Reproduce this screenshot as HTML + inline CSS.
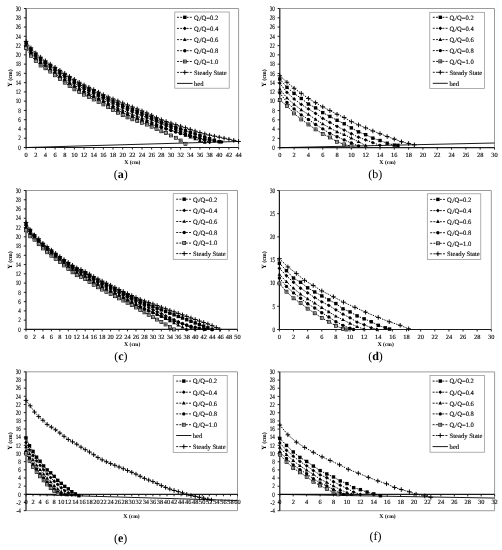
<!DOCTYPE html>
<html><head><meta charset="utf-8"><style>
html,body{margin:0;padding:0;background:#fff;width:502px;height:550px;overflow:hidden}
svg{display:block;will-change:transform}
text{font-family:"Liberation Serif", serif;fill:#000;text-rendering:geometricPrecision}
.tk{font-size:6.4px;stroke:#000;stroke-width:0.12px}
.ttl{font-size:5.8px;font-weight:bold}
.lg{font-size:6.6px;stroke:#000;stroke-width:0.12px}
.pl{font-size:12px}
</style></head><body>
<svg width="502" height="550" viewBox="0 0 502 550">
<rect width="502" height="550" fill="#fff"/>
<defs>
<rect id="msq" x="-1.7" y="-1.7" width="3.4" height="3.4" fill="#000"/>
<path id="mdia" d="M0 -1.9L1.9 0L0 1.9L-1.9 0Z" fill="#000"/>
<path id="mtri" d="M0 -2.1L1.85 1.3H-1.85Z" fill="#000"/>
<circle id="mcir" r="1.7" fill="#000"/>
<g id="mosq"><rect x="-1.5" y="-1.5" width="3" height="3" fill="#fff" stroke="#000" stroke-width="0.7"/><path d="M-1.5 0H1.5M0 -1.5V1.5" stroke="#222" stroke-width="0.55"/></g>
<path id="mplus" d="M-2.3 0H2.3M0 -2.3V2.3" stroke="#000" stroke-width="0.95"/>
</defs>
<path d="M26.1 8.51H238.6V147.5" fill="none" stroke="#9a9a9a" stroke-width="1"/>
<path d="M26.1 8.51V147.5" stroke="#1a1a1a" stroke-width="1.2"/>
<path d="M23.9 147.5H26.1" stroke="#1a1a1a" stroke-width="0.95"/>
<text transform="translate(20.8 149.7) scale(0.8 1.05)" class="tk" text-anchor="end">0</text>
<path d="M23.9 138.23H26.1" stroke="#1a1a1a" stroke-width="0.95"/>
<text transform="translate(20.8 140.43) scale(0.8 1.05)" class="tk" text-anchor="end">2</text>
<path d="M23.9 128.97H26.1" stroke="#1a1a1a" stroke-width="0.95"/>
<text transform="translate(20.8 131.17) scale(0.8 1.05)" class="tk" text-anchor="end">4</text>
<path d="M23.9 119.7H26.1" stroke="#1a1a1a" stroke-width="0.95"/>
<text transform="translate(20.8 121.9) scale(0.8 1.05)" class="tk" text-anchor="end">6</text>
<path d="M23.9 110.44H26.1" stroke="#1a1a1a" stroke-width="0.95"/>
<text transform="translate(20.8 112.64) scale(0.8 1.05)" class="tk" text-anchor="end">8</text>
<path d="M23.9 101.17H26.1" stroke="#1a1a1a" stroke-width="0.95"/>
<text transform="translate(20.8 103.37) scale(0.8 1.05)" class="tk" text-anchor="end">10</text>
<path d="M23.9 91.9H26.1" stroke="#1a1a1a" stroke-width="0.95"/>
<text transform="translate(20.8 94.1) scale(0.8 1.05)" class="tk" text-anchor="end">12</text>
<path d="M23.9 82.64H26.1" stroke="#1a1a1a" stroke-width="0.95"/>
<text transform="translate(20.8 84.84) scale(0.8 1.05)" class="tk" text-anchor="end">14</text>
<path d="M23.9 73.37H26.1" stroke="#1a1a1a" stroke-width="0.95"/>
<text transform="translate(20.8 75.57) scale(0.8 1.05)" class="tk" text-anchor="end">16</text>
<path d="M23.9 64.11H26.1" stroke="#1a1a1a" stroke-width="0.95"/>
<text transform="translate(20.8 66.31) scale(0.8 1.05)" class="tk" text-anchor="end">18</text>
<path d="M23.9 54.84H26.1" stroke="#1a1a1a" stroke-width="0.95"/>
<text transform="translate(20.8 57.04) scale(0.8 1.05)" class="tk" text-anchor="end">20</text>
<path d="M23.9 45.57H26.1" stroke="#1a1a1a" stroke-width="0.95"/>
<text transform="translate(20.8 47.77) scale(0.8 1.05)" class="tk" text-anchor="end">22</text>
<path d="M23.9 36.31H26.1" stroke="#1a1a1a" stroke-width="0.95"/>
<text transform="translate(20.8 38.51) scale(0.8 1.05)" class="tk" text-anchor="end">24</text>
<path d="M23.9 27.04H26.1" stroke="#1a1a1a" stroke-width="0.95"/>
<text transform="translate(20.8 29.24) scale(0.8 1.05)" class="tk" text-anchor="end">26</text>
<path d="M23.9 17.78H26.1" stroke="#1a1a1a" stroke-width="0.95"/>
<text transform="translate(20.8 19.98) scale(0.8 1.05)" class="tk" text-anchor="end">28</text>
<path d="M23.9 8.51H26.1" stroke="#1a1a1a" stroke-width="0.95"/>
<text transform="translate(20.8 10.71) scale(0.8 1.05)" class="tk" text-anchor="end">30</text>
<path d="M26.1 147.5H238.6" stroke="#1a1a1a" stroke-width="1.2"/>
<path d="M26.1 147.5V149.5" stroke="#1a1a1a" stroke-width="0.95"/>
<text transform="translate(26.1 156.7) scale(1.0 1.0)" class="tk" text-anchor="middle">0</text>
<path d="M35.76 147.5V149.5" stroke="#1a1a1a" stroke-width="0.95"/>
<text transform="translate(35.76 156.7) scale(1.0 1.0)" class="tk" text-anchor="middle">2</text>
<path d="M45.42 147.5V149.5" stroke="#1a1a1a" stroke-width="0.95"/>
<text transform="translate(45.42 156.7) scale(1.0 1.0)" class="tk" text-anchor="middle">4</text>
<path d="M55.07 147.5V149.5" stroke="#1a1a1a" stroke-width="0.95"/>
<text transform="translate(55.07 156.7) scale(1.0 1.0)" class="tk" text-anchor="middle">6</text>
<path d="M64.73 147.5V149.5" stroke="#1a1a1a" stroke-width="0.95"/>
<text transform="translate(64.73 156.7) scale(1.0 1.0)" class="tk" text-anchor="middle">8</text>
<path d="M74.39 147.5V149.5" stroke="#1a1a1a" stroke-width="0.95"/>
<text transform="translate(74.39 156.7) scale(1.0 1.0)" class="tk" text-anchor="middle">10</text>
<path d="M84.05 147.5V149.5" stroke="#1a1a1a" stroke-width="0.95"/>
<text transform="translate(84.05 156.7) scale(1.0 1.0)" class="tk" text-anchor="middle">12</text>
<path d="M93.71 147.5V149.5" stroke="#1a1a1a" stroke-width="0.95"/>
<text transform="translate(93.71 156.7) scale(1.0 1.0)" class="tk" text-anchor="middle">14</text>
<path d="M103.36 147.5V149.5" stroke="#1a1a1a" stroke-width="0.95"/>
<text transform="translate(103.36 156.7) scale(1.0 1.0)" class="tk" text-anchor="middle">16</text>
<path d="M113.02 147.5V149.5" stroke="#1a1a1a" stroke-width="0.95"/>
<text transform="translate(113.02 156.7) scale(1.0 1.0)" class="tk" text-anchor="middle">18</text>
<path d="M122.68 147.5V149.5" stroke="#1a1a1a" stroke-width="0.95"/>
<text transform="translate(122.68 156.7) scale(1.0 1.0)" class="tk" text-anchor="middle">20</text>
<path d="M132.34 147.5V149.5" stroke="#1a1a1a" stroke-width="0.95"/>
<text transform="translate(132.34 156.7) scale(1.0 1.0)" class="tk" text-anchor="middle">22</text>
<path d="M142 147.5V149.5" stroke="#1a1a1a" stroke-width="0.95"/>
<text transform="translate(142 156.7) scale(1.0 1.0)" class="tk" text-anchor="middle">24</text>
<path d="M151.65 147.5V149.5" stroke="#1a1a1a" stroke-width="0.95"/>
<text transform="translate(151.65 156.7) scale(1.0 1.0)" class="tk" text-anchor="middle">26</text>
<path d="M161.31 147.5V149.5" stroke="#1a1a1a" stroke-width="0.95"/>
<text transform="translate(161.31 156.7) scale(1.0 1.0)" class="tk" text-anchor="middle">28</text>
<path d="M170.97 147.5V149.5" stroke="#1a1a1a" stroke-width="0.95"/>
<text transform="translate(170.97 156.7) scale(1.0 1.0)" class="tk" text-anchor="middle">30</text>
<path d="M180.63 147.5V149.5" stroke="#1a1a1a" stroke-width="0.95"/>
<text transform="translate(180.63 156.7) scale(1.0 1.0)" class="tk" text-anchor="middle">32</text>
<path d="M190.29 147.5V149.5" stroke="#1a1a1a" stroke-width="0.95"/>
<text transform="translate(190.29 156.7) scale(1.0 1.0)" class="tk" text-anchor="middle">34</text>
<path d="M199.94 147.5V149.5" stroke="#1a1a1a" stroke-width="0.95"/>
<text transform="translate(199.94 156.7) scale(1.0 1.0)" class="tk" text-anchor="middle">36</text>
<path d="M209.6 147.5V149.5" stroke="#1a1a1a" stroke-width="0.95"/>
<text transform="translate(209.6 156.7) scale(1.0 1.0)" class="tk" text-anchor="middle">38</text>
<path d="M219.26 147.5V149.5" stroke="#1a1a1a" stroke-width="0.95"/>
<text transform="translate(219.26 156.7) scale(1.0 1.0)" class="tk" text-anchor="middle">40</text>
<path d="M228.92 147.5V149.5" stroke="#1a1a1a" stroke-width="0.95"/>
<text transform="translate(228.92 156.7) scale(1.0 1.0)" class="tk" text-anchor="middle">42</text>
<path d="M238.58 147.5V149.5" stroke="#1a1a1a" stroke-width="0.95"/>
<text transform="translate(238.58 156.7) scale(1.0 1.0)" class="tk" text-anchor="middle">44</text>
<text x="132.3" y="164.2" class="ttl" text-anchor="middle">X <tspan style="font-size:5.5px">(cm)</tspan></text>
<text transform="translate(12.2 78) rotate(-90)" class="ttl" text-anchor="middle" style="font-size:6.4px">Y <tspan style="font-size:6px">(cm)</tspan></text>
<path d="M26.1 147.5L238.58 141.48" stroke="#000" stroke-width="0.9"/>
<path d="M26.1 42.7 30.93 49.19 35.76 54.56 40.59 58.74 45.42 62.35 50.25 65.71 55.07 68.9 59.9 72.09 64.73 75.23 69.56 78.36 74.39 81.39 79.22 84.24 84.05 86.9 88.88 89.26 93.71 91.57 98.53 94.11 103.36 96.63 108.19 98.94 113.02 101.15 117.85 103.31 122.68 105.41 127.51 107.44 132.34 109.43 137.17 111.35 142 113.3 146.82 115.38 151.65 117.53 156.48 119.82 161.31 122.02 166.14 123.87 170.97 125.58 175.8 127.28 180.63 128.97 185.46 130.64 190.29 132.3 195.11 133.93 199.94 135.54 204.77 137.13 209.6 138.68 214.43 140.21 219.26 141.7" fill="none" stroke="#000" stroke-width="0.95" stroke-dasharray="1.4 1.1"/>
<path d="M26.1 44 30.93 50.69 35.76 56.14 40.59 60.27 45.42 63.83 50.25 67.22 55.07 70.49 59.9 73.81 64.73 77.08 69.56 80.3 74.39 83.38 79.22 86.21 84.05 88.85 88.88 91.22 93.71 93.55 98.53 96.06 103.36 98.58 108.19 101.01 113.02 103.37 117.85 105.66 122.68 107.85 127.51 109.92 132.34 111.9 137.17 113.78 142 115.67 146.82 117.74 151.65 119.82 156.48 121.81 161.31 123.78 166.14 125.74 170.97 127.68 175.8 129.6 180.63 131.49 185.46 133.37 190.29 135.21 195.11 137.03 199.94 138.82 204.77 140.58 209.6 142.3" fill="none" stroke="#000" stroke-width="0.95" stroke-dasharray="1.4 1.1"/>
<path d="M26.1 45.3 30.93 52.18 35.76 57.71 40.59 61.8 45.42 65.31 50.25 68.74 55.07 72.08 59.9 75.53 64.73 78.93 69.56 82.25 74.39 85.37 79.22 88.19 84.05 90.79 88.88 93.19 93.71 95.54 98.53 98.01 103.36 100.52 108.19 103.08 113.02 105.6 117.85 108.01 122.68 110.29 127.51 112.39 132.34 114.37 137.17 116.21 142 118.05 146.82 120.07 151.65 122.11 156.48 124.06 161.31 126 166.14 127.92 170.97 129.82 175.8 131.7 180.63 133.56 185.46 135.4 190.29 137.2 195.11 138.98 199.94 140.72 204.77 142.44" fill="none" stroke="#000" stroke-width="0.95" stroke-dasharray="1.4 1.1"/>
<path d="M26.1 46.59 30.93 53.67 35.76 59.29 40.59 63.32 45.42 66.79 50.25 70.25 55.07 73.67 59.9 77.25 64.73 80.78 69.56 84.19 74.39 87.36 79.22 90.16 84.05 92.74 88.88 95.15 93.71 97.52 98.53 99.96 103.36 102.47 108.19 105.15 113.02 107.83 117.85 110.36 122.68 112.74 127.51 114.87 132.34 116.84 137.17 118.63 142 120.42 146.82 122.48 151.65 124.4 156.48 125.99 161.31 127.57 166.14 129.11 170.97 130.61 175.8 132.07 180.63 133.47 185.46 134.81 190.29 136.07 195.11 137.25 199.94 138.35 204.77 139.35 209.6 140.24 214.43 141.02 219.26 141.68 221.67 141.96" fill="none" stroke="#000" stroke-width="0.95" stroke-dasharray="1.4 1.1"/>
<path d="M26.1 47.89 30.93 55.77 35.76 60.86 40.59 65.5 45.42 68.28 50.25 71.59 55.07 75.26 59.9 79.02 64.73 82.64 69.56 86.12 74.39 89.36 79.22 92.13 84.05 94.68 88.88 97.12 93.71 99.5 98.53 101.92 103.36 104.41 108.19 107.17 113.02 110.05 117.85 112.75 122.68 115.18 127.51 117.39 132.34 119.31 137.17 121.09 142 122.79 146.82 124.57 151.65 126.69 156.48 128.97 161.31 131.28 166.14 133.14 170.97 135.45 175.8 137.77 180.63 140.55 185.46 143.79" fill="none" stroke="#000" stroke-width="0.95" stroke-dasharray="1.4 1.1"/>
<path d="M26.1 41.4 30.93 47.89 35.76 52.99 40.59 57.16 45.42 60.86 50.25 64.18 55.07 67.31 59.9 70.34 64.73 73.37 69.56 76.43 74.39 79.39 79.22 82.27 84.05 84.95 88.88 87.3 93.71 89.59 98.53 92.17 103.36 94.68 108.19 96.88 113.02 98.92 117.85 100.94 122.68 102.96 127.51 104.96 132.34 106.96 137.17 108.94 142 110.93 146.82 112.98 151.65 115.24 156.48 117.58 161.31 119.7 166.14 121.48 170.97 123.11 175.8 124.67 180.63 126.19 185.46 127.74 190.29 129.4 195.11 131.07 199.94 132.58 204.77 133.91 209.6 135.1 214.43 136.16 219.26 137.18 224.09 138.21 228.92 139.27 233.75 140.36 238.58 141.48" fill="none" stroke="#000" stroke-width="0.95" stroke-dasharray="1.4 1.1"/>
<use href="#msq" x="26.1" y="42.7"/>
<use href="#msq" x="30.93" y="49.19"/>
<use href="#msq" x="35.76" y="54.56"/>
<use href="#msq" x="40.59" y="58.74"/>
<use href="#msq" x="45.42" y="62.35"/>
<use href="#msq" x="50.25" y="65.71"/>
<use href="#msq" x="55.07" y="68.9"/>
<use href="#msq" x="59.9" y="72.09"/>
<use href="#msq" x="64.73" y="75.23"/>
<use href="#msq" x="69.56" y="78.36"/>
<use href="#msq" x="74.39" y="81.39"/>
<use href="#msq" x="79.22" y="84.24"/>
<use href="#msq" x="84.05" y="86.9"/>
<use href="#msq" x="88.88" y="89.26"/>
<use href="#msq" x="93.71" y="91.57"/>
<use href="#msq" x="98.53" y="94.11"/>
<use href="#msq" x="103.36" y="96.63"/>
<use href="#msq" x="108.19" y="98.94"/>
<use href="#msq" x="113.02" y="101.15"/>
<use href="#msq" x="117.85" y="103.31"/>
<use href="#msq" x="122.68" y="105.41"/>
<use href="#msq" x="127.51" y="107.44"/>
<use href="#msq" x="132.34" y="109.43"/>
<use href="#msq" x="137.17" y="111.35"/>
<use href="#msq" x="142" y="113.3"/>
<use href="#msq" x="146.82" y="115.38"/>
<use href="#msq" x="151.65" y="117.53"/>
<use href="#msq" x="156.48" y="119.82"/>
<use href="#msq" x="161.31" y="122.02"/>
<use href="#msq" x="166.14" y="123.87"/>
<use href="#msq" x="170.97" y="125.58"/>
<use href="#msq" x="175.8" y="127.28"/>
<use href="#msq" x="180.63" y="128.97"/>
<use href="#msq" x="185.46" y="130.64"/>
<use href="#msq" x="190.29" y="132.3"/>
<use href="#msq" x="195.11" y="133.93"/>
<use href="#msq" x="199.94" y="135.54"/>
<use href="#msq" x="204.77" y="137.13"/>
<use href="#msq" x="209.6" y="138.68"/>
<use href="#msq" x="214.43" y="140.21"/>
<use href="#msq" x="219.26" y="141.7"/>
<use href="#mdia" x="26.1" y="44"/>
<use href="#mdia" x="30.93" y="50.69"/>
<use href="#mdia" x="35.76" y="56.14"/>
<use href="#mdia" x="40.59" y="60.27"/>
<use href="#mdia" x="45.42" y="63.83"/>
<use href="#mdia" x="50.25" y="67.22"/>
<use href="#mdia" x="55.07" y="70.49"/>
<use href="#mdia" x="59.9" y="73.81"/>
<use href="#mdia" x="64.73" y="77.08"/>
<use href="#mdia" x="69.56" y="80.3"/>
<use href="#mdia" x="74.39" y="83.38"/>
<use href="#mdia" x="79.22" y="86.21"/>
<use href="#mdia" x="84.05" y="88.85"/>
<use href="#mdia" x="88.88" y="91.22"/>
<use href="#mdia" x="93.71" y="93.55"/>
<use href="#mdia" x="98.53" y="96.06"/>
<use href="#mdia" x="103.36" y="98.58"/>
<use href="#mdia" x="108.19" y="101.01"/>
<use href="#mdia" x="113.02" y="103.37"/>
<use href="#mdia" x="117.85" y="105.66"/>
<use href="#mdia" x="122.68" y="107.85"/>
<use href="#mdia" x="127.51" y="109.92"/>
<use href="#mdia" x="132.34" y="111.9"/>
<use href="#mdia" x="137.17" y="113.78"/>
<use href="#mdia" x="142" y="115.67"/>
<use href="#mdia" x="146.82" y="117.74"/>
<use href="#mdia" x="151.65" y="119.82"/>
<use href="#mdia" x="156.48" y="121.81"/>
<use href="#mdia" x="161.31" y="123.78"/>
<use href="#mdia" x="166.14" y="125.74"/>
<use href="#mdia" x="170.97" y="127.68"/>
<use href="#mdia" x="175.8" y="129.6"/>
<use href="#mdia" x="180.63" y="131.49"/>
<use href="#mdia" x="185.46" y="133.37"/>
<use href="#mdia" x="190.29" y="135.21"/>
<use href="#mdia" x="195.11" y="137.03"/>
<use href="#mdia" x="199.94" y="138.82"/>
<use href="#mdia" x="204.77" y="140.58"/>
<use href="#mdia" x="209.6" y="142.3"/>
<use href="#mtri" x="26.1" y="45.3"/>
<use href="#mtri" x="30.93" y="52.18"/>
<use href="#mtri" x="35.76" y="57.71"/>
<use href="#mtri" x="40.59" y="61.8"/>
<use href="#mtri" x="45.42" y="65.31"/>
<use href="#mtri" x="50.25" y="68.74"/>
<use href="#mtri" x="55.07" y="72.08"/>
<use href="#mtri" x="59.9" y="75.53"/>
<use href="#mtri" x="64.73" y="78.93"/>
<use href="#mtri" x="69.56" y="82.25"/>
<use href="#mtri" x="74.39" y="85.37"/>
<use href="#mtri" x="79.22" y="88.19"/>
<use href="#mtri" x="84.05" y="90.79"/>
<use href="#mtri" x="88.88" y="93.19"/>
<use href="#mtri" x="93.71" y="95.54"/>
<use href="#mtri" x="98.53" y="98.01"/>
<use href="#mtri" x="103.36" y="100.52"/>
<use href="#mtri" x="108.19" y="103.08"/>
<use href="#mtri" x="113.02" y="105.6"/>
<use href="#mtri" x="117.85" y="108.01"/>
<use href="#mtri" x="122.68" y="110.29"/>
<use href="#mtri" x="127.51" y="112.39"/>
<use href="#mtri" x="132.34" y="114.37"/>
<use href="#mtri" x="137.17" y="116.21"/>
<use href="#mtri" x="142" y="118.05"/>
<use href="#mtri" x="146.82" y="120.07"/>
<use href="#mtri" x="151.65" y="122.11"/>
<use href="#mtri" x="156.48" y="124.06"/>
<use href="#mtri" x="161.31" y="126"/>
<use href="#mtri" x="166.14" y="127.92"/>
<use href="#mtri" x="170.97" y="129.82"/>
<use href="#mtri" x="175.8" y="131.7"/>
<use href="#mtri" x="180.63" y="133.56"/>
<use href="#mtri" x="185.46" y="135.4"/>
<use href="#mtri" x="190.29" y="137.2"/>
<use href="#mtri" x="195.11" y="138.98"/>
<use href="#mtri" x="199.94" y="140.72"/>
<use href="#mtri" x="204.77" y="142.44"/>
<use href="#mcir" x="26.1" y="46.59"/>
<use href="#mcir" x="30.93" y="53.67"/>
<use href="#mcir" x="35.76" y="59.29"/>
<use href="#mcir" x="40.59" y="63.32"/>
<use href="#mcir" x="45.42" y="66.79"/>
<use href="#mcir" x="50.25" y="70.25"/>
<use href="#mcir" x="55.07" y="73.67"/>
<use href="#mcir" x="59.9" y="77.25"/>
<use href="#mcir" x="64.73" y="80.78"/>
<use href="#mcir" x="69.56" y="84.19"/>
<use href="#mcir" x="74.39" y="87.36"/>
<use href="#mcir" x="79.22" y="90.16"/>
<use href="#mcir" x="84.05" y="92.74"/>
<use href="#mcir" x="88.88" y="95.15"/>
<use href="#mcir" x="93.71" y="97.52"/>
<use href="#mcir" x="98.53" y="99.96"/>
<use href="#mcir" x="103.36" y="102.47"/>
<use href="#mcir" x="108.19" y="105.15"/>
<use href="#mcir" x="113.02" y="107.83"/>
<use href="#mcir" x="117.85" y="110.36"/>
<use href="#mcir" x="122.68" y="112.74"/>
<use href="#mcir" x="127.51" y="114.87"/>
<use href="#mcir" x="132.34" y="116.84"/>
<use href="#mcir" x="137.17" y="118.63"/>
<use href="#mcir" x="142" y="120.42"/>
<use href="#mcir" x="146.82" y="122.48"/>
<use href="#mcir" x="151.65" y="124.4"/>
<use href="#mcir" x="156.48" y="125.99"/>
<use href="#mcir" x="161.31" y="127.57"/>
<use href="#mcir" x="166.14" y="129.11"/>
<use href="#mcir" x="170.97" y="130.61"/>
<use href="#mcir" x="175.8" y="132.07"/>
<use href="#mcir" x="180.63" y="133.47"/>
<use href="#mcir" x="185.46" y="134.81"/>
<use href="#mcir" x="190.29" y="136.07"/>
<use href="#mcir" x="195.11" y="137.25"/>
<use href="#mcir" x="199.94" y="138.35"/>
<use href="#mcir" x="204.77" y="139.35"/>
<use href="#mcir" x="209.6" y="140.24"/>
<use href="#mcir" x="214.43" y="141.02"/>
<use href="#mcir" x="219.26" y="141.68"/>
<use href="#mcir" x="221.67" y="141.96"/>
<use href="#mosq" x="26.1" y="47.89"/>
<use href="#mosq" x="30.93" y="55.77"/>
<use href="#mosq" x="35.76" y="60.86"/>
<use href="#mosq" x="40.59" y="65.5"/>
<use href="#mosq" x="45.42" y="68.28"/>
<use href="#mosq" x="50.25" y="71.59"/>
<use href="#mosq" x="55.07" y="75.26"/>
<use href="#mosq" x="59.9" y="79.02"/>
<use href="#mosq" x="64.73" y="82.64"/>
<use href="#mosq" x="69.56" y="86.12"/>
<use href="#mosq" x="74.39" y="89.36"/>
<use href="#mosq" x="79.22" y="92.13"/>
<use href="#mosq" x="84.05" y="94.68"/>
<use href="#mosq" x="88.88" y="97.12"/>
<use href="#mosq" x="93.71" y="99.5"/>
<use href="#mosq" x="98.53" y="101.92"/>
<use href="#mosq" x="103.36" y="104.41"/>
<use href="#mosq" x="108.19" y="107.17"/>
<use href="#mosq" x="113.02" y="110.05"/>
<use href="#mosq" x="117.85" y="112.75"/>
<use href="#mosq" x="122.68" y="115.18"/>
<use href="#mosq" x="127.51" y="117.39"/>
<use href="#mosq" x="132.34" y="119.31"/>
<use href="#mosq" x="137.17" y="121.09"/>
<use href="#mosq" x="142" y="122.79"/>
<use href="#mosq" x="146.82" y="124.57"/>
<use href="#mosq" x="151.65" y="126.69"/>
<use href="#mosq" x="156.48" y="128.97"/>
<use href="#mosq" x="161.31" y="131.28"/>
<use href="#mosq" x="166.14" y="133.14"/>
<use href="#mosq" x="170.97" y="135.45"/>
<use href="#mosq" x="175.8" y="137.77"/>
<use href="#mosq" x="180.63" y="140.55"/>
<use href="#mosq" x="185.46" y="143.79"/>
<use href="#mplus" x="26.1" y="41.4"/>
<use href="#mplus" x="30.93" y="47.89"/>
<use href="#mplus" x="35.76" y="52.99"/>
<use href="#mplus" x="40.59" y="57.16"/>
<use href="#mplus" x="45.42" y="60.86"/>
<use href="#mplus" x="50.25" y="64.18"/>
<use href="#mplus" x="55.07" y="67.31"/>
<use href="#mplus" x="59.9" y="70.34"/>
<use href="#mplus" x="64.73" y="73.37"/>
<use href="#mplus" x="69.56" y="76.43"/>
<use href="#mplus" x="74.39" y="79.39"/>
<use href="#mplus" x="79.22" y="82.27"/>
<use href="#mplus" x="84.05" y="84.95"/>
<use href="#mplus" x="88.88" y="87.3"/>
<use href="#mplus" x="93.71" y="89.59"/>
<use href="#mplus" x="98.53" y="92.17"/>
<use href="#mplus" x="103.36" y="94.68"/>
<use href="#mplus" x="108.19" y="96.88"/>
<use href="#mplus" x="113.02" y="98.92"/>
<use href="#mplus" x="117.85" y="100.94"/>
<use href="#mplus" x="122.68" y="102.96"/>
<use href="#mplus" x="127.51" y="104.96"/>
<use href="#mplus" x="132.34" y="106.96"/>
<use href="#mplus" x="137.17" y="108.94"/>
<use href="#mplus" x="142" y="110.93"/>
<use href="#mplus" x="146.82" y="112.98"/>
<use href="#mplus" x="151.65" y="115.24"/>
<use href="#mplus" x="156.48" y="117.58"/>
<use href="#mplus" x="161.31" y="119.7"/>
<use href="#mplus" x="166.14" y="121.48"/>
<use href="#mplus" x="170.97" y="123.11"/>
<use href="#mplus" x="175.8" y="124.67"/>
<use href="#mplus" x="180.63" y="126.19"/>
<use href="#mplus" x="185.46" y="127.74"/>
<use href="#mplus" x="190.29" y="129.4"/>
<use href="#mplus" x="195.11" y="131.07"/>
<use href="#mplus" x="199.94" y="132.58"/>
<use href="#mplus" x="204.77" y="133.91"/>
<use href="#mplus" x="209.6" y="135.1"/>
<use href="#mplus" x="214.43" y="136.16"/>
<use href="#mplus" x="219.26" y="137.18"/>
<use href="#mplus" x="224.09" y="138.21"/>
<use href="#mplus" x="228.92" y="139.27"/>
<use href="#mplus" x="233.75" y="140.36"/>
<use href="#mplus" x="238.58" y="141.48"/>
<rect x="174.8" y="12" width="54.4" height="76.2" fill="#fff" stroke="#8c8c8c" stroke-width="0.7"/>
<path d="M177 17.3H192.6" stroke="#000" stroke-width="0.85" stroke-dasharray="2 1.2"/>
<use href="#msq" x="184.8" y="17.3"/>
<text transform="translate(194 19.6) scale(1 1.0)" class="lg">Q<tspan font-size="3.4" dy="0.9">i</tspan><tspan dy="-0.9">/Q=0.2</tspan></text>
<path d="M177 28.4H192.6" stroke="#000" stroke-width="0.85" stroke-dasharray="2 1.2"/>
<use href="#mdia" x="184.8" y="28.4"/>
<text transform="translate(194 30.7) scale(1 1.0)" class="lg">Q<tspan font-size="3.4" dy="0.9">i</tspan><tspan dy="-0.9">/Q=0.4</tspan></text>
<path d="M177 39.6H192.6" stroke="#000" stroke-width="0.85" stroke-dasharray="2 1.2"/>
<use href="#mtri" x="184.8" y="39.6"/>
<text transform="translate(194 41.9) scale(1 1.0)" class="lg">Q<tspan font-size="3.4" dy="0.9">i</tspan><tspan dy="-0.9">/Q=0.6</tspan></text>
<path d="M177 50.7H192.6" stroke="#000" stroke-width="0.85" stroke-dasharray="2 1.2"/>
<use href="#mcir" x="184.8" y="50.7"/>
<text transform="translate(194 53) scale(1 1.0)" class="lg">Q<tspan font-size="3.4" dy="0.9">i</tspan><tspan dy="-0.9">/Q=0.8</tspan></text>
<path d="M177 61.5H192.6" stroke="#000" stroke-width="0.85" stroke-dasharray="2 1.2"/>
<use href="#mosq" x="184.8" y="61.5"/>
<text transform="translate(194 63.8) scale(1 1.0)" class="lg">Q<tspan font-size="3.4" dy="0.9">i</tspan><tspan dy="-0.9">/Q=1.0</tspan></text>
<path d="M177 72.4H192.6" stroke="#000" stroke-width="0.85" stroke-dasharray="2 1.2"/>
<use href="#mplus" x="184.8" y="72.4"/>
<text transform="translate(194 74.7) scale(1 1.0)" class="lg">Steady State</text>
<path d="M177 83.4H192.6" stroke="#000" stroke-width="0.9"/>
<text transform="translate(194 85.7) scale(1 1.0)" class="lg">bed</text>
<text x="120.8" y="178" class="pl" text-anchor="middle">(<tspan font-weight="bold">a</tspan>)</text>
<path d="M279.8 8.51H494.5V147.65" fill="none" stroke="#9a9a9a" stroke-width="1"/>
<path d="M279.8 8.51V147.65" stroke="#1a1a1a" stroke-width="1.2"/>
<path d="M277.6 147.65H279.8" stroke="#1a1a1a" stroke-width="0.95"/>
<text transform="translate(274.8 149.85) scale(0.8 1.05)" class="tk" text-anchor="end">0</text>
<path d="M277.6 138.37H279.8" stroke="#1a1a1a" stroke-width="0.95"/>
<text transform="translate(274.8 140.57) scale(0.8 1.05)" class="tk" text-anchor="end">2</text>
<path d="M277.6 129.1H279.8" stroke="#1a1a1a" stroke-width="0.95"/>
<text transform="translate(274.8 131.3) scale(0.8 1.05)" class="tk" text-anchor="end">4</text>
<path d="M277.6 119.82H279.8" stroke="#1a1a1a" stroke-width="0.95"/>
<text transform="translate(274.8 122.02) scale(0.8 1.05)" class="tk" text-anchor="end">6</text>
<path d="M277.6 110.55H279.8" stroke="#1a1a1a" stroke-width="0.95"/>
<text transform="translate(274.8 112.75) scale(0.8 1.05)" class="tk" text-anchor="end">8</text>
<path d="M277.6 101.27H279.8" stroke="#1a1a1a" stroke-width="0.95"/>
<text transform="translate(274.8 103.47) scale(0.8 1.05)" class="tk" text-anchor="end">10</text>
<path d="M277.6 91.99H279.8" stroke="#1a1a1a" stroke-width="0.95"/>
<text transform="translate(274.8 94.19) scale(0.8 1.05)" class="tk" text-anchor="end">12</text>
<path d="M277.6 82.72H279.8" stroke="#1a1a1a" stroke-width="0.95"/>
<text transform="translate(274.8 84.92) scale(0.8 1.05)" class="tk" text-anchor="end">14</text>
<path d="M277.6 73.44H279.8" stroke="#1a1a1a" stroke-width="0.95"/>
<text transform="translate(274.8 75.64) scale(0.8 1.05)" class="tk" text-anchor="end">16</text>
<path d="M277.6 64.17H279.8" stroke="#1a1a1a" stroke-width="0.95"/>
<text transform="translate(274.8 66.37) scale(0.8 1.05)" class="tk" text-anchor="end">18</text>
<path d="M277.6 54.89H279.8" stroke="#1a1a1a" stroke-width="0.95"/>
<text transform="translate(274.8 57.09) scale(0.8 1.05)" class="tk" text-anchor="end">20</text>
<path d="M277.6 45.61H279.8" stroke="#1a1a1a" stroke-width="0.95"/>
<text transform="translate(274.8 47.81) scale(0.8 1.05)" class="tk" text-anchor="end">22</text>
<path d="M277.6 36.34H279.8" stroke="#1a1a1a" stroke-width="0.95"/>
<text transform="translate(274.8 38.54) scale(0.8 1.05)" class="tk" text-anchor="end">24</text>
<path d="M277.6 27.06H279.8" stroke="#1a1a1a" stroke-width="0.95"/>
<text transform="translate(274.8 29.26) scale(0.8 1.05)" class="tk" text-anchor="end">26</text>
<path d="M277.6 17.79H279.8" stroke="#1a1a1a" stroke-width="0.95"/>
<text transform="translate(274.8 19.99) scale(0.8 1.05)" class="tk" text-anchor="end">28</text>
<path d="M277.6 8.51H279.8" stroke="#1a1a1a" stroke-width="0.95"/>
<text transform="translate(274.8 10.71) scale(0.8 1.05)" class="tk" text-anchor="end">30</text>
<path d="M279.8 147.65H494.5" stroke="#1a1a1a" stroke-width="1.2"/>
<path d="M279.8 147.65V149.65" stroke="#1a1a1a" stroke-width="0.95"/>
<text transform="translate(279.8 157.4) scale(1.0 1.0)" class="tk" text-anchor="middle">0</text>
<path d="M294.11 147.65V149.65" stroke="#1a1a1a" stroke-width="0.95"/>
<text transform="translate(294.11 157.4) scale(1.0 1.0)" class="tk" text-anchor="middle">2</text>
<path d="M308.43 147.65V149.65" stroke="#1a1a1a" stroke-width="0.95"/>
<text transform="translate(308.43 157.4) scale(1.0 1.0)" class="tk" text-anchor="middle">4</text>
<path d="M322.74 147.65V149.65" stroke="#1a1a1a" stroke-width="0.95"/>
<text transform="translate(322.74 157.4) scale(1.0 1.0)" class="tk" text-anchor="middle">6</text>
<path d="M337.06 147.65V149.65" stroke="#1a1a1a" stroke-width="0.95"/>
<text transform="translate(337.06 157.4) scale(1.0 1.0)" class="tk" text-anchor="middle">8</text>
<path d="M351.37 147.65V149.65" stroke="#1a1a1a" stroke-width="0.95"/>
<text transform="translate(351.37 157.4) scale(1.0 1.0)" class="tk" text-anchor="middle">10</text>
<path d="M365.68 147.65V149.65" stroke="#1a1a1a" stroke-width="0.95"/>
<text transform="translate(365.68 157.4) scale(1.0 1.0)" class="tk" text-anchor="middle">12</text>
<path d="M380 147.65V149.65" stroke="#1a1a1a" stroke-width="0.95"/>
<text transform="translate(380 157.4) scale(1.0 1.0)" class="tk" text-anchor="middle">14</text>
<path d="M394.31 147.65V149.65" stroke="#1a1a1a" stroke-width="0.95"/>
<text transform="translate(394.31 157.4) scale(1.0 1.0)" class="tk" text-anchor="middle">16</text>
<path d="M408.63 147.65V149.65" stroke="#1a1a1a" stroke-width="0.95"/>
<text transform="translate(408.63 157.4) scale(1.0 1.0)" class="tk" text-anchor="middle">18</text>
<path d="M422.94 147.65V149.65" stroke="#1a1a1a" stroke-width="0.95"/>
<text transform="translate(422.94 157.4) scale(1.0 1.0)" class="tk" text-anchor="middle">20</text>
<path d="M437.25 147.65V149.65" stroke="#1a1a1a" stroke-width="0.95"/>
<text transform="translate(437.25 157.4) scale(1.0 1.0)" class="tk" text-anchor="middle">22</text>
<path d="M451.57 147.65V149.65" stroke="#1a1a1a" stroke-width="0.95"/>
<text transform="translate(451.57 157.4) scale(1.0 1.0)" class="tk" text-anchor="middle">24</text>
<path d="M465.88 147.65V149.65" stroke="#1a1a1a" stroke-width="0.95"/>
<text transform="translate(465.88 157.4) scale(1.0 1.0)" class="tk" text-anchor="middle">26</text>
<path d="M480.2 147.65V149.65" stroke="#1a1a1a" stroke-width="0.95"/>
<text transform="translate(480.2 157.4) scale(1.0 1.0)" class="tk" text-anchor="middle">28</text>
<path d="M494.51 147.65V149.65" stroke="#1a1a1a" stroke-width="0.95"/>
<text transform="translate(494.51 157.4) scale(1.0 1.0)" class="tk" text-anchor="middle">30</text>
<text x="387.4" y="164.4" class="ttl" text-anchor="middle">X <tspan style="font-size:5.5px">(cm)</tspan></text>
<text transform="translate(266.2 78) rotate(-90)" class="ttl" text-anchor="middle" style="font-size:6.4px">Y <tspan style="font-size:6px">(cm)</tspan></text>
<path d="M279.8 147.65L494.51 143.01" stroke="#000" stroke-width="0.9"/>
<path d="M279.8 79.01 286.96 87.36 294.11 93.39 301.27 98.49 308.43 104.05 315.59 107.9 322.74 112.63 329.9 116.44 337.06 120.29 344.21 123.76 351.37 127.89 358.53 131.88 365.68 134.66 372.84 138.14 380 140.51 387.16 143.24 394.31 145.1 397.89 145.33" fill="none" stroke="#000" stroke-width="0.95" stroke-dasharray="1.4 1.1"/>
<path d="M279.8 83.18 286.96 92.46 294.11 98.95 301.27 104.38 308.43 108.92 315.59 113.42 322.74 118.43 329.9 122.47 337.06 126.45 344.21 130.03 351.37 133.74 358.53 137.21 365.68 139.9 372.84 142.64 380 145.33" fill="none" stroke="#000" stroke-width="0.95" stroke-dasharray="1.4 1.1"/>
<path d="M279.8 89.21 286.96 98.02 294.11 104.38 301.27 109.9 308.43 114.44 315.59 119.45 322.74 124 329.9 127.89 337.06 131.88 344.21 134.66 351.37 138.14 358.53 141.76 365.68 145.56" fill="none" stroke="#000" stroke-width="0.95" stroke-dasharray="1.4 1.1"/>
<path d="M279.8 92.92 286.96 102.38 294.11 108.92 301.27 114.91 308.43 119.45 315.59 124.46 322.74 128.87 329.9 133.41 337.06 136.7 344.21 139.9 351.37 143.01 358.53 145.93" fill="none" stroke="#000" stroke-width="0.95" stroke-dasharray="1.4 1.1"/>
<path d="M279.8 99.88 286.96 105.91 294.11 113.42 301.27 119.45 308.43 124.46 315.59 129.38 322.74 133.88 329.9 137.45 337.06 141.76 344.21 144.4 351.37 146.26" fill="none" stroke="#000" stroke-width="0.95" stroke-dasharray="1.4 1.1"/>
<path d="M279.8 75.76 286.96 82.25 294.11 88.28 301.27 93.39 308.43 98.49 315.59 102.66 322.74 106.84 329.9 110.55 337.06 114.26 344.21 117.5 351.37 121.68 358.53 124.92 365.68 127.89 372.84 130.95 380 133.74 387.16 136.52 394.31 139.07 401.47 141.76 408.63 143.48 414.35 144.87" fill="none" stroke="#000" stroke-width="0.95" stroke-dasharray="1.4 1.1"/>
<use href="#msq" x="279.8" y="79.01"/>
<use href="#msq" x="286.96" y="87.36"/>
<use href="#msq" x="294.11" y="93.39"/>
<use href="#msq" x="301.27" y="98.49"/>
<use href="#msq" x="308.43" y="104.05"/>
<use href="#msq" x="315.59" y="107.9"/>
<use href="#msq" x="322.74" y="112.63"/>
<use href="#msq" x="329.9" y="116.44"/>
<use href="#msq" x="337.06" y="120.29"/>
<use href="#msq" x="344.21" y="123.76"/>
<use href="#msq" x="351.37" y="127.89"/>
<use href="#msq" x="358.53" y="131.88"/>
<use href="#msq" x="365.68" y="134.66"/>
<use href="#msq" x="372.84" y="138.14"/>
<use href="#msq" x="380" y="140.51"/>
<use href="#msq" x="387.16" y="143.24"/>
<use href="#msq" x="394.31" y="145.1"/>
<use href="#msq" x="397.89" y="145.33"/>
<use href="#mdia" x="279.8" y="83.18"/>
<use href="#mdia" x="286.96" y="92.46"/>
<use href="#mdia" x="294.11" y="98.95"/>
<use href="#mdia" x="301.27" y="104.38"/>
<use href="#mdia" x="308.43" y="108.92"/>
<use href="#mdia" x="315.59" y="113.42"/>
<use href="#mdia" x="322.74" y="118.43"/>
<use href="#mdia" x="329.9" y="122.47"/>
<use href="#mdia" x="337.06" y="126.45"/>
<use href="#mdia" x="344.21" y="130.03"/>
<use href="#mdia" x="351.37" y="133.74"/>
<use href="#mdia" x="358.53" y="137.21"/>
<use href="#mdia" x="365.68" y="139.9"/>
<use href="#mdia" x="372.84" y="142.64"/>
<use href="#mdia" x="380" y="145.33"/>
<use href="#mtri" x="279.8" y="89.21"/>
<use href="#mtri" x="286.96" y="98.02"/>
<use href="#mtri" x="294.11" y="104.38"/>
<use href="#mtri" x="301.27" y="109.9"/>
<use href="#mtri" x="308.43" y="114.44"/>
<use href="#mtri" x="315.59" y="119.45"/>
<use href="#mtri" x="322.74" y="124"/>
<use href="#mtri" x="329.9" y="127.89"/>
<use href="#mtri" x="337.06" y="131.88"/>
<use href="#mtri" x="344.21" y="134.66"/>
<use href="#mtri" x="351.37" y="138.14"/>
<use href="#mtri" x="358.53" y="141.76"/>
<use href="#mtri" x="365.68" y="145.56"/>
<use href="#mcir" x="279.8" y="92.92"/>
<use href="#mcir" x="286.96" y="102.38"/>
<use href="#mcir" x="294.11" y="108.92"/>
<use href="#mcir" x="301.27" y="114.91"/>
<use href="#mcir" x="308.43" y="119.45"/>
<use href="#mcir" x="315.59" y="124.46"/>
<use href="#mcir" x="322.74" y="128.87"/>
<use href="#mcir" x="329.9" y="133.41"/>
<use href="#mcir" x="337.06" y="136.7"/>
<use href="#mcir" x="344.21" y="139.9"/>
<use href="#mcir" x="351.37" y="143.01"/>
<use href="#mcir" x="358.53" y="145.93"/>
<use href="#mosq" x="279.8" y="99.88"/>
<use href="#mosq" x="286.96" y="105.91"/>
<use href="#mosq" x="294.11" y="113.42"/>
<use href="#mosq" x="301.27" y="119.45"/>
<use href="#mosq" x="308.43" y="124.46"/>
<use href="#mosq" x="315.59" y="129.38"/>
<use href="#mosq" x="322.74" y="133.88"/>
<use href="#mosq" x="329.9" y="137.45"/>
<use href="#mosq" x="337.06" y="141.76"/>
<use href="#mosq" x="344.21" y="144.4"/>
<use href="#mosq" x="351.37" y="146.26"/>
<use href="#mplus" x="279.8" y="75.76"/>
<use href="#mplus" x="286.96" y="82.25"/>
<use href="#mplus" x="294.11" y="88.28"/>
<use href="#mplus" x="301.27" y="93.39"/>
<use href="#mplus" x="308.43" y="98.49"/>
<use href="#mplus" x="315.59" y="102.66"/>
<use href="#mplus" x="322.74" y="106.84"/>
<use href="#mplus" x="329.9" y="110.55"/>
<use href="#mplus" x="337.06" y="114.26"/>
<use href="#mplus" x="344.21" y="117.5"/>
<use href="#mplus" x="351.37" y="121.68"/>
<use href="#mplus" x="358.53" y="124.92"/>
<use href="#mplus" x="365.68" y="127.89"/>
<use href="#mplus" x="372.84" y="130.95"/>
<use href="#mplus" x="380" y="133.74"/>
<use href="#mplus" x="387.16" y="136.52"/>
<use href="#mplus" x="394.31" y="139.07"/>
<use href="#mplus" x="401.47" y="141.76"/>
<use href="#mplus" x="408.63" y="143.48"/>
<use href="#mplus" x="414.35" y="144.87"/>
<rect x="429.8" y="12.3" width="54.7" height="76.1" fill="#fff" stroke="#8c8c8c" stroke-width="0.7"/>
<path d="M432.8 17.3H447.8" stroke="#000" stroke-width="0.85" stroke-dasharray="2 1.2"/>
<use href="#msq" x="440.3" y="17.3"/>
<text transform="translate(449.5 19.6) scale(1 1.0)" class="lg">Q<tspan font-size="3.4" dy="0.9">i</tspan><tspan dy="-0.9">/Q=0.2</tspan></text>
<path d="M432.8 28.3H447.8" stroke="#000" stroke-width="0.85" stroke-dasharray="2 1.2"/>
<use href="#mdia" x="440.3" y="28.3"/>
<text transform="translate(449.5 30.6) scale(1 1.0)" class="lg">Q<tspan font-size="3.4" dy="0.9">i</tspan><tspan dy="-0.9">/Q=0.4</tspan></text>
<path d="M432.8 39.6H447.8" stroke="#000" stroke-width="0.85" stroke-dasharray="2 1.2"/>
<use href="#mtri" x="440.3" y="39.6"/>
<text transform="translate(449.5 41.9) scale(1 1.0)" class="lg">Q<tspan font-size="3.4" dy="0.9">i</tspan><tspan dy="-0.9">/Q=0.6</tspan></text>
<path d="M432.8 50.6H447.8" stroke="#000" stroke-width="0.85" stroke-dasharray="2 1.2"/>
<use href="#mcir" x="440.3" y="50.6"/>
<text transform="translate(449.5 52.9) scale(1 1.0)" class="lg">Q<tspan font-size="3.4" dy="0.9">i</tspan><tspan dy="-0.9">/Q=0.8</tspan></text>
<path d="M432.8 61.4H447.8" stroke="#000" stroke-width="0.85" stroke-dasharray="2 1.2"/>
<use href="#mosq" x="440.3" y="61.4"/>
<text transform="translate(449.5 63.7) scale(1 1.0)" class="lg">Q<tspan font-size="3.4" dy="0.9">i</tspan><tspan dy="-0.9">/Q=1.0</tspan></text>
<path d="M432.8 72.3H447.8" stroke="#000" stroke-width="0.85" stroke-dasharray="2 1.2"/>
<use href="#mplus" x="440.3" y="72.3"/>
<text transform="translate(449.5 74.6) scale(1 1.0)" class="lg">Steady State</text>
<path d="M432.8 83.3H447.8" stroke="#000" stroke-width="0.9"/>
<text transform="translate(449.5 85.6) scale(1 1.0)" class="lg">bed</text>
<text x="375.3" y="177.9" class="pl" text-anchor="middle">(<tspan font-weight="normal">b</tspan>)</text>
<path d="M26 190.5H237.5V329.4" fill="none" stroke="#9a9a9a" stroke-width="1"/>
<path d="M26 190.5V329.4" stroke="#1a1a1a" stroke-width="1.2"/>
<path d="M23.8 329.4H26" stroke="#1a1a1a" stroke-width="0.95"/>
<text transform="translate(20.8 331.6) scale(0.8 1.05)" class="tk" text-anchor="end">0</text>
<path d="M23.8 320.14H26" stroke="#1a1a1a" stroke-width="0.95"/>
<text transform="translate(20.8 322.34) scale(0.8 1.05)" class="tk" text-anchor="end">2</text>
<path d="M23.8 310.88H26" stroke="#1a1a1a" stroke-width="0.95"/>
<text transform="translate(20.8 313.08) scale(0.8 1.05)" class="tk" text-anchor="end">4</text>
<path d="M23.8 301.62H26" stroke="#1a1a1a" stroke-width="0.95"/>
<text transform="translate(20.8 303.82) scale(0.8 1.05)" class="tk" text-anchor="end">6</text>
<path d="M23.8 292.36H26" stroke="#1a1a1a" stroke-width="0.95"/>
<text transform="translate(20.8 294.56) scale(0.8 1.05)" class="tk" text-anchor="end">8</text>
<path d="M23.8 283.1H26" stroke="#1a1a1a" stroke-width="0.95"/>
<text transform="translate(20.8 285.3) scale(0.8 1.05)" class="tk" text-anchor="end">10</text>
<path d="M23.8 273.84H26" stroke="#1a1a1a" stroke-width="0.95"/>
<text transform="translate(20.8 276.04) scale(0.8 1.05)" class="tk" text-anchor="end">12</text>
<path d="M23.8 264.58H26" stroke="#1a1a1a" stroke-width="0.95"/>
<text transform="translate(20.8 266.78) scale(0.8 1.05)" class="tk" text-anchor="end">14</text>
<path d="M23.8 255.32H26" stroke="#1a1a1a" stroke-width="0.95"/>
<text transform="translate(20.8 257.52) scale(0.8 1.05)" class="tk" text-anchor="end">16</text>
<path d="M23.8 246.06H26" stroke="#1a1a1a" stroke-width="0.95"/>
<text transform="translate(20.8 248.26) scale(0.8 1.05)" class="tk" text-anchor="end">18</text>
<path d="M23.8 236.8H26" stroke="#1a1a1a" stroke-width="0.95"/>
<text transform="translate(20.8 239) scale(0.8 1.05)" class="tk" text-anchor="end">20</text>
<path d="M23.8 227.54H26" stroke="#1a1a1a" stroke-width="0.95"/>
<text transform="translate(20.8 229.74) scale(0.8 1.05)" class="tk" text-anchor="end">22</text>
<path d="M23.8 218.28H26" stroke="#1a1a1a" stroke-width="0.95"/>
<text transform="translate(20.8 220.48) scale(0.8 1.05)" class="tk" text-anchor="end">24</text>
<path d="M23.8 209.02H26" stroke="#1a1a1a" stroke-width="0.95"/>
<text transform="translate(20.8 211.22) scale(0.8 1.05)" class="tk" text-anchor="end">26</text>
<path d="M23.8 199.76H26" stroke="#1a1a1a" stroke-width="0.95"/>
<text transform="translate(20.8 201.96) scale(0.8 1.05)" class="tk" text-anchor="end">28</text>
<path d="M23.8 190.5H26" stroke="#1a1a1a" stroke-width="0.95"/>
<text transform="translate(20.8 192.7) scale(0.8 1.05)" class="tk" text-anchor="end">30</text>
<path d="M26 329.4H237.5" stroke="#1a1a1a" stroke-width="1.2"/>
<path d="M26 329.4V331.4" stroke="#1a1a1a" stroke-width="0.95"/>
<text transform="translate(26 338.9) scale(1.0 1.0)" class="tk" text-anchor="middle">0</text>
<path d="M34.46 329.4V331.4" stroke="#1a1a1a" stroke-width="0.95"/>
<text transform="translate(34.46 338.9) scale(1.0 1.0)" class="tk" text-anchor="middle">2</text>
<path d="M42.92 329.4V331.4" stroke="#1a1a1a" stroke-width="0.95"/>
<text transform="translate(42.92 338.9) scale(1.0 1.0)" class="tk" text-anchor="middle">4</text>
<path d="M51.38 329.4V331.4" stroke="#1a1a1a" stroke-width="0.95"/>
<text transform="translate(51.38 338.9) scale(1.0 1.0)" class="tk" text-anchor="middle">6</text>
<path d="M59.84 329.4V331.4" stroke="#1a1a1a" stroke-width="0.95"/>
<text transform="translate(59.84 338.9) scale(1.0 1.0)" class="tk" text-anchor="middle">8</text>
<path d="M68.3 329.4V331.4" stroke="#1a1a1a" stroke-width="0.95"/>
<text transform="translate(68.3 338.9) scale(1.0 1.0)" class="tk" text-anchor="middle">10</text>
<path d="M76.76 329.4V331.4" stroke="#1a1a1a" stroke-width="0.95"/>
<text transform="translate(76.76 338.9) scale(1.0 1.0)" class="tk" text-anchor="middle">12</text>
<path d="M85.22 329.4V331.4" stroke="#1a1a1a" stroke-width="0.95"/>
<text transform="translate(85.22 338.9) scale(1.0 1.0)" class="tk" text-anchor="middle">14</text>
<path d="M93.68 329.4V331.4" stroke="#1a1a1a" stroke-width="0.95"/>
<text transform="translate(93.68 338.9) scale(1.0 1.0)" class="tk" text-anchor="middle">16</text>
<path d="M102.14 329.4V331.4" stroke="#1a1a1a" stroke-width="0.95"/>
<text transform="translate(102.14 338.9) scale(1.0 1.0)" class="tk" text-anchor="middle">18</text>
<path d="M110.6 329.4V331.4" stroke="#1a1a1a" stroke-width="0.95"/>
<text transform="translate(110.6 338.9) scale(1.0 1.0)" class="tk" text-anchor="middle">20</text>
<path d="M119.06 329.4V331.4" stroke="#1a1a1a" stroke-width="0.95"/>
<text transform="translate(119.06 338.9) scale(1.0 1.0)" class="tk" text-anchor="middle">22</text>
<path d="M127.52 329.4V331.4" stroke="#1a1a1a" stroke-width="0.95"/>
<text transform="translate(127.52 338.9) scale(1.0 1.0)" class="tk" text-anchor="middle">24</text>
<path d="M135.98 329.4V331.4" stroke="#1a1a1a" stroke-width="0.95"/>
<text transform="translate(135.98 338.9) scale(1.0 1.0)" class="tk" text-anchor="middle">26</text>
<path d="M144.44 329.4V331.4" stroke="#1a1a1a" stroke-width="0.95"/>
<text transform="translate(144.44 338.9) scale(1.0 1.0)" class="tk" text-anchor="middle">28</text>
<path d="M152.9 329.4V331.4" stroke="#1a1a1a" stroke-width="0.95"/>
<text transform="translate(152.9 338.9) scale(1.0 1.0)" class="tk" text-anchor="middle">30</text>
<path d="M161.36 329.4V331.4" stroke="#1a1a1a" stroke-width="0.95"/>
<text transform="translate(161.36 338.9) scale(1.0 1.0)" class="tk" text-anchor="middle">32</text>
<path d="M169.82 329.4V331.4" stroke="#1a1a1a" stroke-width="0.95"/>
<text transform="translate(169.82 338.9) scale(1.0 1.0)" class="tk" text-anchor="middle">34</text>
<path d="M178.28 329.4V331.4" stroke="#1a1a1a" stroke-width="0.95"/>
<text transform="translate(178.28 338.9) scale(1.0 1.0)" class="tk" text-anchor="middle">36</text>
<path d="M186.74 329.4V331.4" stroke="#1a1a1a" stroke-width="0.95"/>
<text transform="translate(186.74 338.9) scale(1.0 1.0)" class="tk" text-anchor="middle">38</text>
<path d="M195.2 329.4V331.4" stroke="#1a1a1a" stroke-width="0.95"/>
<text transform="translate(195.2 338.9) scale(1.0 1.0)" class="tk" text-anchor="middle">40</text>
<path d="M203.66 329.4V331.4" stroke="#1a1a1a" stroke-width="0.95"/>
<text transform="translate(203.66 338.9) scale(1.0 1.0)" class="tk" text-anchor="middle">42</text>
<path d="M212.12 329.4V331.4" stroke="#1a1a1a" stroke-width="0.95"/>
<text transform="translate(212.12 338.9) scale(1.0 1.0)" class="tk" text-anchor="middle">44</text>
<path d="M220.58 329.4V331.4" stroke="#1a1a1a" stroke-width="0.95"/>
<text transform="translate(220.58 338.9) scale(1.0 1.0)" class="tk" text-anchor="middle">46</text>
<path d="M229.04 329.4V331.4" stroke="#1a1a1a" stroke-width="0.95"/>
<text transform="translate(229.04 338.9) scale(1.0 1.0)" class="tk" text-anchor="middle">48</text>
<path d="M237.5 329.4V331.4" stroke="#1a1a1a" stroke-width="0.95"/>
<text transform="translate(237.5 338.9) scale(1.0 1.0)" class="tk" text-anchor="middle">50</text>
<text x="132.1" y="345.5" class="ttl" text-anchor="middle">X <tspan style="font-size:5.5px">(cm)</tspan></text>
<text transform="translate(12.2 260) rotate(-90)" class="ttl" text-anchor="middle" style="font-size:6.4px">Y <tspan style="font-size:6px">(cm)</tspan></text>
<path d="M26 224.02 30.23 230.44 34.46 235.92 38.69 240.42 42.92 244.36 47.15 247.91 51.38 251.22 55.61 254.49 59.84 257.66 64.07 260.75 68.3 263.73 72.53 266.68 76.76 269.3 80.99 271.23 85.22 273.12 89.45 275.62 93.68 278.23 97.91 280.55 102.14 282.77 106.37 284.9 110.6 287 114.83 289.13 119.06 291.24 123.29 293.33 127.52 295.4 131.75 297.46 135.98 299.49 140.21 301.43 144.44 303.28 148.67 304.97 152.9 306.6 157.13 308.25 161.36 309.89 165.59 311.53 169.82 313.18 174.05 314.81 178.28 316.45 182.51 318.08 186.74 319.71 190.97 321.34 195.2 322.96 199.43 324.58 203.66 326.19 207.89 327.8 212.12 329.4" fill="none" stroke="#000" stroke-width="0.95" stroke-dasharray="1.4 1.1"/>
<path d="M26 225.6 30.23 231.59 34.46 236.85 38.69 241.37 42.92 245.38 47.15 248.98 51.38 252.34 55.61 255.6 59.84 258.76 64.07 261.93 68.3 265.02 72.53 268.08 76.76 270.78 80.99 272.73 85.22 274.63 89.45 277.19 93.68 279.87 97.91 282.23 102.14 284.48 106.37 286.64 110.6 288.75 114.83 290.89 119.06 293.03 123.29 295.14 127.52 297.24 131.75 299.38 135.98 301.49 140.21 303.55 144.44 305.62 148.67 307.67 152.9 309.71 157.13 311.74 161.36 313.77 165.59 315.78 169.82 317.77 174.05 319.75 178.28 321.72 182.51 323.66 186.74 325.6 190.97 327.51 195.2 329.4" fill="none" stroke="#000" stroke-width="0.95" stroke-dasharray="1.4 1.1"/>
<path d="M26 227.17 30.23 232.75 34.46 237.79 38.69 242.31 42.92 246.4 47.15 250.06 51.38 253.47 55.61 256.7 59.84 259.86 64.07 263.11 68.3 266.31 72.53 269.47 76.76 272.27 80.99 274.23 85.22 276.14 89.45 278.76 93.68 281.51 97.91 283.91 102.14 286.19 106.37 288.37 110.6 290.51 114.83 292.66 119.06 294.81 123.29 296.94 127.52 299.09 131.75 301.28 135.98 303.49 140.21 305.67 144.44 307.85 148.67 310.03 152.9 312.2 157.13 314.37 161.36 316.53 165.59 318.69 169.82 320.84 174.05 322.99 178.28 325.14 182.51 327.27 186.74 329.4" fill="none" stroke="#000" stroke-width="0.95" stroke-dasharray="1.4 1.1"/>
<path d="M26 228.74 30.23 233.9 34.46 238.73 38.69 243.25 42.92 247.42 47.15 251.14 51.38 254.59 55.61 257.81 59.84 260.97 64.07 264.29 68.3 267.59 72.53 270.87 76.76 273.75 80.99 275.73 85.22 277.66 89.45 280.34 93.68 283.15 97.91 285.59 102.14 287.89 106.37 290.1 110.6 292.26 114.83 294.43 119.06 296.59 123.29 298.75 127.52 300.93 131.75 303.3 135.98 305.49 140.21 307.36 144.44 309.22 148.67 311.05 152.9 312.84 157.13 314.58 161.36 316.28 165.59 317.93 169.82 319.51 174.05 321.02 178.28 322.46 182.51 323.81 186.74 325.07 190.97 326.24 195.2 327.3 199.43 328.26 203.66 329.1 205.35 329.4" fill="none" stroke="#000" stroke-width="0.95" stroke-dasharray="1.4 1.1"/>
<path d="M26 230.32 30.23 236.34 34.46 239.67 38.69 244.22 42.92 248.44 47.15 252.29 51.38 255.71 55.61 258.89 59.84 262.07 64.07 265.46 68.3 268.88 72.53 272.32 76.76 275.23 80.99 276.89 85.22 279.17 89.45 281.94 93.68 284.78 97.91 287.3 102.14 289.6 106.37 291.82 110.6 294.01 114.83 296.21 119.06 298.38 123.29 300.55 127.52 302.78 131.75 305.1 135.98 307.49 140.21 309.92 144.44 312.36 148.67 314.79 152.9 317.19 157.13 319.58 161.36 321.99 165.59 324.44 169.82 326.91 174.05 329.4" fill="none" stroke="#000" stroke-width="0.95" stroke-dasharray="1.4 1.1"/>
<path d="M26 222.45 30.23 229.85 34.46 234.98 38.69 238.72 42.92 243.34 47.15 246.8 51.38 250.1 55.61 253.38 59.84 256.56 64.07 259.57 68.3 262.45 72.53 265.32 76.76 267.82 80.99 269.49 85.22 271.61 89.45 274.07 93.68 276.59 97.91 278.9 102.14 281.06 106.37 283.16 110.6 285.25 114.83 287.35 119.06 289.46 123.29 291.53 127.52 293.55 131.75 295.53 135.98 297.48 140.21 299.34 144.44 301.01 148.67 302.43 152.9 303.95 157.13 305.55 161.36 307.18 165.59 308.78 169.82 310.33 174.05 311.85 178.28 313.37 182.51 314.89 186.74 316.42 190.97 317.96 195.2 319.49 199.43 321.02 203.66 322.49 207.89 323.98 212.12 325.62 216.35 327.58 219.73 329.4" fill="none" stroke="#000" stroke-width="0.95" stroke-dasharray="1.4 1.1"/>
<use href="#msq" x="26" y="224.02"/>
<use href="#msq" x="30.23" y="230.44"/>
<use href="#msq" x="34.46" y="235.92"/>
<use href="#msq" x="38.69" y="240.42"/>
<use href="#msq" x="42.92" y="244.36"/>
<use href="#msq" x="47.15" y="247.91"/>
<use href="#msq" x="51.38" y="251.22"/>
<use href="#msq" x="55.61" y="254.49"/>
<use href="#msq" x="59.84" y="257.66"/>
<use href="#msq" x="64.07" y="260.75"/>
<use href="#msq" x="68.3" y="263.73"/>
<use href="#msq" x="72.53" y="266.68"/>
<use href="#msq" x="76.76" y="269.3"/>
<use href="#msq" x="80.99" y="271.23"/>
<use href="#msq" x="85.22" y="273.12"/>
<use href="#msq" x="89.45" y="275.62"/>
<use href="#msq" x="93.68" y="278.23"/>
<use href="#msq" x="97.91" y="280.55"/>
<use href="#msq" x="102.14" y="282.77"/>
<use href="#msq" x="106.37" y="284.9"/>
<use href="#msq" x="110.6" y="287"/>
<use href="#msq" x="114.83" y="289.13"/>
<use href="#msq" x="119.06" y="291.24"/>
<use href="#msq" x="123.29" y="293.33"/>
<use href="#msq" x="127.52" y="295.4"/>
<use href="#msq" x="131.75" y="297.46"/>
<use href="#msq" x="135.98" y="299.49"/>
<use href="#msq" x="140.21" y="301.43"/>
<use href="#msq" x="144.44" y="303.28"/>
<use href="#msq" x="148.67" y="304.97"/>
<use href="#msq" x="152.9" y="306.6"/>
<use href="#msq" x="157.13" y="308.25"/>
<use href="#msq" x="161.36" y="309.89"/>
<use href="#msq" x="165.59" y="311.53"/>
<use href="#msq" x="169.82" y="313.18"/>
<use href="#msq" x="174.05" y="314.81"/>
<use href="#msq" x="178.28" y="316.45"/>
<use href="#msq" x="182.51" y="318.08"/>
<use href="#msq" x="186.74" y="319.71"/>
<use href="#msq" x="190.97" y="321.34"/>
<use href="#msq" x="195.2" y="322.96"/>
<use href="#msq" x="199.43" y="324.58"/>
<use href="#msq" x="203.66" y="326.19"/>
<use href="#msq" x="207.89" y="327.8"/>
<use href="#msq" x="212.12" y="329.4"/>
<use href="#mdia" x="26" y="225.6"/>
<use href="#mdia" x="30.23" y="231.59"/>
<use href="#mdia" x="34.46" y="236.85"/>
<use href="#mdia" x="38.69" y="241.37"/>
<use href="#mdia" x="42.92" y="245.38"/>
<use href="#mdia" x="47.15" y="248.98"/>
<use href="#mdia" x="51.38" y="252.34"/>
<use href="#mdia" x="55.61" y="255.6"/>
<use href="#mdia" x="59.84" y="258.76"/>
<use href="#mdia" x="64.07" y="261.93"/>
<use href="#mdia" x="68.3" y="265.02"/>
<use href="#mdia" x="72.53" y="268.08"/>
<use href="#mdia" x="76.76" y="270.78"/>
<use href="#mdia" x="80.99" y="272.73"/>
<use href="#mdia" x="85.22" y="274.63"/>
<use href="#mdia" x="89.45" y="277.19"/>
<use href="#mdia" x="93.68" y="279.87"/>
<use href="#mdia" x="97.91" y="282.23"/>
<use href="#mdia" x="102.14" y="284.48"/>
<use href="#mdia" x="106.37" y="286.64"/>
<use href="#mdia" x="110.6" y="288.75"/>
<use href="#mdia" x="114.83" y="290.89"/>
<use href="#mdia" x="119.06" y="293.03"/>
<use href="#mdia" x="123.29" y="295.14"/>
<use href="#mdia" x="127.52" y="297.24"/>
<use href="#mdia" x="131.75" y="299.38"/>
<use href="#mdia" x="135.98" y="301.49"/>
<use href="#mdia" x="140.21" y="303.55"/>
<use href="#mdia" x="144.44" y="305.62"/>
<use href="#mdia" x="148.67" y="307.67"/>
<use href="#mdia" x="152.9" y="309.71"/>
<use href="#mdia" x="157.13" y="311.74"/>
<use href="#mdia" x="161.36" y="313.77"/>
<use href="#mdia" x="165.59" y="315.78"/>
<use href="#mdia" x="169.82" y="317.77"/>
<use href="#mdia" x="174.05" y="319.75"/>
<use href="#mdia" x="178.28" y="321.72"/>
<use href="#mdia" x="182.51" y="323.66"/>
<use href="#mdia" x="186.74" y="325.6"/>
<use href="#mdia" x="190.97" y="327.51"/>
<use href="#mdia" x="195.2" y="329.4"/>
<use href="#mtri" x="26" y="227.17"/>
<use href="#mtri" x="30.23" y="232.75"/>
<use href="#mtri" x="34.46" y="237.79"/>
<use href="#mtri" x="38.69" y="242.31"/>
<use href="#mtri" x="42.92" y="246.4"/>
<use href="#mtri" x="47.15" y="250.06"/>
<use href="#mtri" x="51.38" y="253.47"/>
<use href="#mtri" x="55.61" y="256.7"/>
<use href="#mtri" x="59.84" y="259.86"/>
<use href="#mtri" x="64.07" y="263.11"/>
<use href="#mtri" x="68.3" y="266.31"/>
<use href="#mtri" x="72.53" y="269.47"/>
<use href="#mtri" x="76.76" y="272.27"/>
<use href="#mtri" x="80.99" y="274.23"/>
<use href="#mtri" x="85.22" y="276.14"/>
<use href="#mtri" x="89.45" y="278.76"/>
<use href="#mtri" x="93.68" y="281.51"/>
<use href="#mtri" x="97.91" y="283.91"/>
<use href="#mtri" x="102.14" y="286.19"/>
<use href="#mtri" x="106.37" y="288.37"/>
<use href="#mtri" x="110.6" y="290.51"/>
<use href="#mtri" x="114.83" y="292.66"/>
<use href="#mtri" x="119.06" y="294.81"/>
<use href="#mtri" x="123.29" y="296.94"/>
<use href="#mtri" x="127.52" y="299.09"/>
<use href="#mtri" x="131.75" y="301.28"/>
<use href="#mtri" x="135.98" y="303.49"/>
<use href="#mtri" x="140.21" y="305.67"/>
<use href="#mtri" x="144.44" y="307.85"/>
<use href="#mtri" x="148.67" y="310.03"/>
<use href="#mtri" x="152.9" y="312.2"/>
<use href="#mtri" x="157.13" y="314.37"/>
<use href="#mtri" x="161.36" y="316.53"/>
<use href="#mtri" x="165.59" y="318.69"/>
<use href="#mtri" x="169.82" y="320.84"/>
<use href="#mtri" x="174.05" y="322.99"/>
<use href="#mtri" x="178.28" y="325.14"/>
<use href="#mtri" x="182.51" y="327.27"/>
<use href="#mtri" x="186.74" y="329.4"/>
<use href="#mcir" x="26" y="228.74"/>
<use href="#mcir" x="30.23" y="233.9"/>
<use href="#mcir" x="34.46" y="238.73"/>
<use href="#mcir" x="38.69" y="243.25"/>
<use href="#mcir" x="42.92" y="247.42"/>
<use href="#mcir" x="47.15" y="251.14"/>
<use href="#mcir" x="51.38" y="254.59"/>
<use href="#mcir" x="55.61" y="257.81"/>
<use href="#mcir" x="59.84" y="260.97"/>
<use href="#mcir" x="64.07" y="264.29"/>
<use href="#mcir" x="68.3" y="267.59"/>
<use href="#mcir" x="72.53" y="270.87"/>
<use href="#mcir" x="76.76" y="273.75"/>
<use href="#mcir" x="80.99" y="275.73"/>
<use href="#mcir" x="85.22" y="277.66"/>
<use href="#mcir" x="89.45" y="280.34"/>
<use href="#mcir" x="93.68" y="283.15"/>
<use href="#mcir" x="97.91" y="285.59"/>
<use href="#mcir" x="102.14" y="287.89"/>
<use href="#mcir" x="106.37" y="290.1"/>
<use href="#mcir" x="110.6" y="292.26"/>
<use href="#mcir" x="114.83" y="294.43"/>
<use href="#mcir" x="119.06" y="296.59"/>
<use href="#mcir" x="123.29" y="298.75"/>
<use href="#mcir" x="127.52" y="300.93"/>
<use href="#mcir" x="131.75" y="303.3"/>
<use href="#mcir" x="135.98" y="305.49"/>
<use href="#mcir" x="140.21" y="307.36"/>
<use href="#mcir" x="144.44" y="309.22"/>
<use href="#mcir" x="148.67" y="311.05"/>
<use href="#mcir" x="152.9" y="312.84"/>
<use href="#mcir" x="157.13" y="314.58"/>
<use href="#mcir" x="161.36" y="316.28"/>
<use href="#mcir" x="165.59" y="317.93"/>
<use href="#mcir" x="169.82" y="319.51"/>
<use href="#mcir" x="174.05" y="321.02"/>
<use href="#mcir" x="178.28" y="322.46"/>
<use href="#mcir" x="182.51" y="323.81"/>
<use href="#mcir" x="186.74" y="325.07"/>
<use href="#mcir" x="190.97" y="326.24"/>
<use href="#mcir" x="195.2" y="327.3"/>
<use href="#mcir" x="199.43" y="328.26"/>
<use href="#mcir" x="203.66" y="329.1"/>
<use href="#mcir" x="205.35" y="329.4"/>
<use href="#mosq" x="26" y="230.32"/>
<use href="#mosq" x="30.23" y="236.34"/>
<use href="#mosq" x="34.46" y="239.67"/>
<use href="#mosq" x="38.69" y="244.22"/>
<use href="#mosq" x="42.92" y="248.44"/>
<use href="#mosq" x="47.15" y="252.29"/>
<use href="#mosq" x="51.38" y="255.71"/>
<use href="#mosq" x="55.61" y="258.89"/>
<use href="#mosq" x="59.84" y="262.07"/>
<use href="#mosq" x="64.07" y="265.46"/>
<use href="#mosq" x="68.3" y="268.88"/>
<use href="#mosq" x="72.53" y="272.32"/>
<use href="#mosq" x="76.76" y="275.23"/>
<use href="#mosq" x="80.99" y="276.89"/>
<use href="#mosq" x="85.22" y="279.17"/>
<use href="#mosq" x="89.45" y="281.94"/>
<use href="#mosq" x="93.68" y="284.78"/>
<use href="#mosq" x="97.91" y="287.3"/>
<use href="#mosq" x="102.14" y="289.6"/>
<use href="#mosq" x="106.37" y="291.82"/>
<use href="#mosq" x="110.6" y="294.01"/>
<use href="#mosq" x="114.83" y="296.21"/>
<use href="#mosq" x="119.06" y="298.38"/>
<use href="#mosq" x="123.29" y="300.55"/>
<use href="#mosq" x="127.52" y="302.78"/>
<use href="#mosq" x="131.75" y="305.1"/>
<use href="#mosq" x="135.98" y="307.49"/>
<use href="#mosq" x="140.21" y="309.92"/>
<use href="#mosq" x="144.44" y="312.36"/>
<use href="#mosq" x="148.67" y="314.79"/>
<use href="#mosq" x="152.9" y="317.19"/>
<use href="#mosq" x="157.13" y="319.58"/>
<use href="#mosq" x="161.36" y="321.99"/>
<use href="#mosq" x="165.59" y="324.44"/>
<use href="#mosq" x="169.82" y="326.91"/>
<use href="#mosq" x="174.05" y="329.4"/>
<use href="#mplus" x="26" y="222.45"/>
<use href="#mplus" x="30.23" y="229.85"/>
<use href="#mplus" x="34.46" y="234.98"/>
<use href="#mplus" x="38.69" y="238.72"/>
<use href="#mplus" x="42.92" y="243.34"/>
<use href="#mplus" x="47.15" y="246.8"/>
<use href="#mplus" x="51.38" y="250.1"/>
<use href="#mplus" x="55.61" y="253.38"/>
<use href="#mplus" x="59.84" y="256.56"/>
<use href="#mplus" x="64.07" y="259.57"/>
<use href="#mplus" x="68.3" y="262.45"/>
<use href="#mplus" x="72.53" y="265.32"/>
<use href="#mplus" x="76.76" y="267.82"/>
<use href="#mplus" x="80.99" y="269.49"/>
<use href="#mplus" x="85.22" y="271.61"/>
<use href="#mplus" x="89.45" y="274.07"/>
<use href="#mplus" x="93.68" y="276.59"/>
<use href="#mplus" x="97.91" y="278.9"/>
<use href="#mplus" x="102.14" y="281.06"/>
<use href="#mplus" x="106.37" y="283.16"/>
<use href="#mplus" x="110.6" y="285.25"/>
<use href="#mplus" x="114.83" y="287.35"/>
<use href="#mplus" x="119.06" y="289.46"/>
<use href="#mplus" x="123.29" y="291.53"/>
<use href="#mplus" x="127.52" y="293.55"/>
<use href="#mplus" x="131.75" y="295.53"/>
<use href="#mplus" x="135.98" y="297.48"/>
<use href="#mplus" x="140.21" y="299.34"/>
<use href="#mplus" x="144.44" y="301.01"/>
<use href="#mplus" x="148.67" y="302.43"/>
<use href="#mplus" x="152.9" y="303.95"/>
<use href="#mplus" x="157.13" y="305.55"/>
<use href="#mplus" x="161.36" y="307.18"/>
<use href="#mplus" x="165.59" y="308.78"/>
<use href="#mplus" x="169.82" y="310.33"/>
<use href="#mplus" x="174.05" y="311.85"/>
<use href="#mplus" x="178.28" y="313.37"/>
<use href="#mplus" x="182.51" y="314.89"/>
<use href="#mplus" x="186.74" y="316.42"/>
<use href="#mplus" x="190.97" y="317.96"/>
<use href="#mplus" x="195.2" y="319.49"/>
<use href="#mplus" x="199.43" y="321.02"/>
<use href="#mplus" x="203.66" y="322.49"/>
<use href="#mplus" x="207.89" y="323.98"/>
<use href="#mplus" x="212.12" y="325.62"/>
<use href="#mplus" x="216.35" y="327.58"/>
<use href="#mplus" x="219.73" y="329.4"/>
<rect x="173.2" y="193.7" width="54.1" height="65.6" fill="#fff" stroke="#8c8c8c" stroke-width="0.7"/>
<path d="M176.2 199.2H192.2" stroke="#000" stroke-width="0.85" stroke-dasharray="2 1.2"/>
<use href="#msq" x="184.2" y="199.2"/>
<text transform="translate(193 201.5) scale(1 1.0)" class="lg">Q<tspan font-size="3.4" dy="0.9">i</tspan><tspan dy="-0.9">/Q=0.2</tspan></text>
<path d="M176.2 210.4H192.2" stroke="#000" stroke-width="0.85" stroke-dasharray="2 1.2"/>
<use href="#mdia" x="184.2" y="210.4"/>
<text transform="translate(193 212.7) scale(1 1.0)" class="lg">Q<tspan font-size="3.4" dy="0.9">i</tspan><tspan dy="-0.9">/Q=0.4</tspan></text>
<path d="M176.2 221.5H192.2" stroke="#000" stroke-width="0.85" stroke-dasharray="2 1.2"/>
<use href="#mtri" x="184.2" y="221.5"/>
<text transform="translate(193 223.8) scale(1 1.0)" class="lg">Q<tspan font-size="3.4" dy="0.9">i</tspan><tspan dy="-0.9">/Q=0.6</tspan></text>
<path d="M176.2 232.5H192.2" stroke="#000" stroke-width="0.85" stroke-dasharray="2 1.2"/>
<use href="#mcir" x="184.2" y="232.5"/>
<text transform="translate(193 234.8) scale(1 1.0)" class="lg">Q<tspan font-size="3.4" dy="0.9">i</tspan><tspan dy="-0.9">/Q=0.8</tspan></text>
<path d="M176.2 243.1H192.2" stroke="#000" stroke-width="0.85" stroke-dasharray="2 1.2"/>
<use href="#mosq" x="184.2" y="243.1"/>
<text transform="translate(193 245.4) scale(1 1.0)" class="lg">Q<tspan font-size="3.4" dy="0.9">i</tspan><tspan dy="-0.9">/Q=1.0</tspan></text>
<path d="M176.2 253.6H192.2" stroke="#000" stroke-width="0.85" stroke-dasharray="2 1.2"/>
<use href="#mplus" x="184.2" y="253.6"/>
<text transform="translate(193 255.9) scale(1 1.0)" class="lg">Steady State</text>
<text x="120.8" y="359.7" class="pl" text-anchor="middle">(<tspan font-weight="bold">c</tspan>)</text>
<path d="M279.4 190.51H491.3V329.5" fill="none" stroke="#9a9a9a" stroke-width="1"/>
<path d="M279.4 190.51V329.5" stroke="#1a1a1a" stroke-width="1.2"/>
<path d="M277.2 329.5H279.4" stroke="#1a1a1a" stroke-width="0.95"/>
<text transform="translate(275 331.7) scale(0.8 1.05)" class="tk" text-anchor="end">0</text>
<path d="M277.2 306.33H279.4" stroke="#1a1a1a" stroke-width="0.95"/>
<text transform="translate(275 308.53) scale(0.8 1.05)" class="tk" text-anchor="end">5</text>
<path d="M277.2 283.17H279.4" stroke="#1a1a1a" stroke-width="0.95"/>
<text transform="translate(275 285.37) scale(0.8 1.05)" class="tk" text-anchor="end">10</text>
<path d="M277.2 260H279.4" stroke="#1a1a1a" stroke-width="0.95"/>
<text transform="translate(275 262.2) scale(0.8 1.05)" class="tk" text-anchor="end">15</text>
<path d="M277.2 236.84H279.4" stroke="#1a1a1a" stroke-width="0.95"/>
<text transform="translate(275 239.04) scale(0.8 1.05)" class="tk" text-anchor="end">20</text>
<path d="M277.2 213.68H279.4" stroke="#1a1a1a" stroke-width="0.95"/>
<text transform="translate(275 215.88) scale(0.8 1.05)" class="tk" text-anchor="end">25</text>
<path d="M277.2 190.51H279.4" stroke="#1a1a1a" stroke-width="0.95"/>
<text transform="translate(275 192.71) scale(0.8 1.05)" class="tk" text-anchor="end">30</text>
<path d="M279.4 329.5H491.3" stroke="#1a1a1a" stroke-width="1.2"/>
<path d="M279.4 329.5V331.5" stroke="#1a1a1a" stroke-width="0.95"/>
<text transform="translate(279.4 339.4) scale(1.0 1.0)" class="tk" text-anchor="middle">0</text>
<path d="M293.53 329.5V331.5" stroke="#1a1a1a" stroke-width="0.95"/>
<text transform="translate(293.53 339.4) scale(1.0 1.0)" class="tk" text-anchor="middle">2</text>
<path d="M307.65 329.5V331.5" stroke="#1a1a1a" stroke-width="0.95"/>
<text transform="translate(307.65 339.4) scale(1.0 1.0)" class="tk" text-anchor="middle">4</text>
<path d="M321.78 329.5V331.5" stroke="#1a1a1a" stroke-width="0.95"/>
<text transform="translate(321.78 339.4) scale(1.0 1.0)" class="tk" text-anchor="middle">6</text>
<path d="M335.9 329.5V331.5" stroke="#1a1a1a" stroke-width="0.95"/>
<text transform="translate(335.9 339.4) scale(1.0 1.0)" class="tk" text-anchor="middle">8</text>
<path d="M350.03 329.5V331.5" stroke="#1a1a1a" stroke-width="0.95"/>
<text transform="translate(350.03 339.4) scale(1.0 1.0)" class="tk" text-anchor="middle">10</text>
<path d="M364.16 329.5V331.5" stroke="#1a1a1a" stroke-width="0.95"/>
<text transform="translate(364.16 339.4) scale(1.0 1.0)" class="tk" text-anchor="middle">12</text>
<path d="M378.28 329.5V331.5" stroke="#1a1a1a" stroke-width="0.95"/>
<text transform="translate(378.28 339.4) scale(1.0 1.0)" class="tk" text-anchor="middle">14</text>
<path d="M392.41 329.5V331.5" stroke="#1a1a1a" stroke-width="0.95"/>
<text transform="translate(392.41 339.4) scale(1.0 1.0)" class="tk" text-anchor="middle">16</text>
<path d="M406.53 329.5V331.5" stroke="#1a1a1a" stroke-width="0.95"/>
<text transform="translate(406.53 339.4) scale(1.0 1.0)" class="tk" text-anchor="middle">18</text>
<path d="M420.66 329.5V331.5" stroke="#1a1a1a" stroke-width="0.95"/>
<text transform="translate(420.66 339.4) scale(1.0 1.0)" class="tk" text-anchor="middle">20</text>
<path d="M434.79 329.5V331.5" stroke="#1a1a1a" stroke-width="0.95"/>
<text transform="translate(434.79 339.4) scale(1.0 1.0)" class="tk" text-anchor="middle">22</text>
<path d="M448.91 329.5V331.5" stroke="#1a1a1a" stroke-width="0.95"/>
<text transform="translate(448.91 339.4) scale(1.0 1.0)" class="tk" text-anchor="middle">24</text>
<path d="M463.04 329.5V331.5" stroke="#1a1a1a" stroke-width="0.95"/>
<text transform="translate(463.04 339.4) scale(1.0 1.0)" class="tk" text-anchor="middle">26</text>
<path d="M477.16 329.5V331.5" stroke="#1a1a1a" stroke-width="0.95"/>
<text transform="translate(477.16 339.4) scale(1.0 1.0)" class="tk" text-anchor="middle">28</text>
<path d="M491.29 329.5V331.5" stroke="#1a1a1a" stroke-width="0.95"/>
<text transform="translate(491.29 339.4) scale(1.0 1.0)" class="tk" text-anchor="middle">30</text>
<text x="385.6" y="345.5" class="ttl" text-anchor="middle">X <tspan style="font-size:5.5px">(cm)</tspan></text>
<text transform="translate(265.7 260) rotate(-90)" class="ttl" text-anchor="middle" style="font-size:6.4px">Y <tspan style="font-size:6px">(cm)</tspan></text>
<path d="M279.4 263.25 286.46 270.66 293.53 278.07 300.59 282.24 307.65 287.8 314.71 291.97 321.78 295.91 328.84 299.85 335.9 303.56 342.97 308.84 350.03 311.89 357.09 315.88 364.16 318.84 371.22 321.76 378.28 325.33 385.34 327.79 389.58 329.04" fill="none" stroke="#000" stroke-width="0.95" stroke-dasharray="1.4 1.1"/>
<path d="M279.4 268.34 286.46 275.76 293.53 282.24 300.59 288.27 307.65 292.9 314.71 297.53 321.78 301.84 328.84 305.41 335.9 309.86 342.97 314.21 350.03 317.78 357.09 322.18 364.16 324.77 371.22 327.79 376.87 329.5" fill="none" stroke="#000" stroke-width="0.95" stroke-dasharray="1.4 1.1"/>
<path d="M279.4 274.37 286.46 281.78 293.53 288.27 300.59 294.1 307.65 298.92 314.71 303.09 321.78 307.72 328.84 311.89 335.9 316.25 342.97 319.77 350.03 323.38 357.09 326.81 364.16 329.04" fill="none" stroke="#000" stroke-width="0.95" stroke-dasharray="1.4 1.1"/>
<path d="M279.4 278.07 286.46 286.41 293.53 292.9 300.59 298.32 307.65 303.74 314.71 307.96 321.78 312.82 328.84 316.99 335.9 321.76 342.97 325.33 350.03 328.2 353.56 329.5" fill="none" stroke="#000" stroke-width="0.95" stroke-dasharray="1.4 1.1"/>
<path d="M279.4 283.4 286.46 291.69 293.53 298.32 300.59 303.09 307.65 308.65 314.71 313.28 321.78 317.92 328.84 321.76 335.9 325.79 342.97 328.81 346.5 329.5" fill="none" stroke="#000" stroke-width="0.95" stroke-dasharray="1.4 1.1"/>
<path d="M279.4 258.62 287.88 266.95 296.35 273.44 304.61 280.39 313.23 285.49 321.78 290.91 333.43 296.79 343.46 302.17 354.97 307.35 365.57 312.17 378.28 317.45 389.23 321.76 400.18 325.33 408.65 328.81" fill="none" stroke="#000" stroke-width="0.95" stroke-dasharray="1.4 1.1"/>
<use href="#msq" x="279.4" y="263.25"/>
<use href="#msq" x="286.46" y="270.66"/>
<use href="#msq" x="293.53" y="278.07"/>
<use href="#msq" x="300.59" y="282.24"/>
<use href="#msq" x="307.65" y="287.8"/>
<use href="#msq" x="314.71" y="291.97"/>
<use href="#msq" x="321.78" y="295.91"/>
<use href="#msq" x="328.84" y="299.85"/>
<use href="#msq" x="335.9" y="303.56"/>
<use href="#msq" x="342.97" y="308.84"/>
<use href="#msq" x="350.03" y="311.89"/>
<use href="#msq" x="357.09" y="315.88"/>
<use href="#msq" x="364.16" y="318.84"/>
<use href="#msq" x="371.22" y="321.76"/>
<use href="#msq" x="378.28" y="325.33"/>
<use href="#msq" x="385.34" y="327.79"/>
<use href="#msq" x="389.58" y="329.04"/>
<use href="#mdia" x="279.4" y="268.34"/>
<use href="#mdia" x="286.46" y="275.76"/>
<use href="#mdia" x="293.53" y="282.24"/>
<use href="#mdia" x="300.59" y="288.27"/>
<use href="#mdia" x="307.65" y="292.9"/>
<use href="#mdia" x="314.71" y="297.53"/>
<use href="#mdia" x="321.78" y="301.84"/>
<use href="#mdia" x="328.84" y="305.41"/>
<use href="#mdia" x="335.9" y="309.86"/>
<use href="#mdia" x="342.97" y="314.21"/>
<use href="#mdia" x="350.03" y="317.78"/>
<use href="#mdia" x="357.09" y="322.18"/>
<use href="#mdia" x="364.16" y="324.77"/>
<use href="#mdia" x="371.22" y="327.79"/>
<use href="#mdia" x="376.87" y="329.5"/>
<use href="#mtri" x="279.4" y="274.37"/>
<use href="#mtri" x="286.46" y="281.78"/>
<use href="#mtri" x="293.53" y="288.27"/>
<use href="#mtri" x="300.59" y="294.1"/>
<use href="#mtri" x="307.65" y="298.92"/>
<use href="#mtri" x="314.71" y="303.09"/>
<use href="#mtri" x="321.78" y="307.72"/>
<use href="#mtri" x="328.84" y="311.89"/>
<use href="#mtri" x="335.9" y="316.25"/>
<use href="#mtri" x="342.97" y="319.77"/>
<use href="#mtri" x="350.03" y="323.38"/>
<use href="#mtri" x="357.09" y="326.81"/>
<use href="#mtri" x="364.16" y="329.04"/>
<use href="#mcir" x="279.4" y="278.07"/>
<use href="#mcir" x="286.46" y="286.41"/>
<use href="#mcir" x="293.53" y="292.9"/>
<use href="#mcir" x="300.59" y="298.32"/>
<use href="#mcir" x="307.65" y="303.74"/>
<use href="#mcir" x="314.71" y="307.96"/>
<use href="#mcir" x="321.78" y="312.82"/>
<use href="#mcir" x="328.84" y="316.99"/>
<use href="#mcir" x="335.9" y="321.76"/>
<use href="#mcir" x="342.97" y="325.33"/>
<use href="#mcir" x="350.03" y="328.2"/>
<use href="#mcir" x="353.56" y="329.5"/>
<use href="#mosq" x="279.4" y="283.4"/>
<use href="#mosq" x="286.46" y="291.69"/>
<use href="#mosq" x="293.53" y="298.32"/>
<use href="#mosq" x="300.59" y="303.09"/>
<use href="#mosq" x="307.65" y="308.65"/>
<use href="#mosq" x="314.71" y="313.28"/>
<use href="#mosq" x="321.78" y="317.92"/>
<use href="#mosq" x="328.84" y="321.76"/>
<use href="#mosq" x="335.9" y="325.79"/>
<use href="#mosq" x="342.97" y="328.81"/>
<use href="#mosq" x="346.5" y="329.5"/>
<use href="#mplus" x="279.4" y="258.62"/>
<use href="#mplus" x="287.88" y="266.95"/>
<use href="#mplus" x="296.35" y="273.44"/>
<use href="#mplus" x="304.61" y="280.39"/>
<use href="#mplus" x="313.23" y="285.49"/>
<use href="#mplus" x="321.78" y="290.91"/>
<use href="#mplus" x="333.43" y="296.79"/>
<use href="#mplus" x="343.46" y="302.17"/>
<use href="#mplus" x="354.97" y="307.35"/>
<use href="#mplus" x="365.57" y="312.17"/>
<use href="#mplus" x="378.28" y="317.45"/>
<use href="#mplus" x="389.23" y="321.76"/>
<use href="#mplus" x="400.18" y="325.33"/>
<use href="#mplus" x="408.65" y="328.81"/>
<rect x="427.3" y="193.8" width="53.5" height="65.7" fill="#fff" stroke="#8c8c8c" stroke-width="0.7"/>
<path d="M430.2 199.4H445.6" stroke="#000" stroke-width="0.85" stroke-dasharray="2 1.2"/>
<use href="#msq" x="437.9" y="199.4"/>
<text transform="translate(447 201.7) scale(1 1.0)" class="lg">Q<tspan font-size="3.4" dy="0.9">i</tspan><tspan dy="-0.9">/Q=0.2</tspan></text>
<path d="M430.2 210.6H445.6" stroke="#000" stroke-width="0.85" stroke-dasharray="2 1.2"/>
<use href="#mdia" x="437.9" y="210.6"/>
<text transform="translate(447 212.9) scale(1 1.0)" class="lg">Q<tspan font-size="3.4" dy="0.9">i</tspan><tspan dy="-0.9">/Q=0.4</tspan></text>
<path d="M430.2 221.7H445.6" stroke="#000" stroke-width="0.85" stroke-dasharray="2 1.2"/>
<use href="#mtri" x="437.9" y="221.7"/>
<text transform="translate(447 224) scale(1 1.0)" class="lg">Q<tspan font-size="3.4" dy="0.9">i</tspan><tspan dy="-0.9">/Q=0.6</tspan></text>
<path d="M430.2 232.7H445.6" stroke="#000" stroke-width="0.85" stroke-dasharray="2 1.2"/>
<use href="#mcir" x="437.9" y="232.7"/>
<text transform="translate(447 235) scale(1 1.0)" class="lg">Q<tspan font-size="3.4" dy="0.9">i</tspan><tspan dy="-0.9">/Q=0.8</tspan></text>
<path d="M430.2 243.3H445.6" stroke="#000" stroke-width="0.85" stroke-dasharray="2 1.2"/>
<use href="#mosq" x="437.9" y="243.3"/>
<text transform="translate(447 245.6) scale(1 1.0)" class="lg">Q<tspan font-size="3.4" dy="0.9">i</tspan><tspan dy="-0.9">/Q=1.0</tspan></text>
<path d="M430.2 253.8H445.6" stroke="#000" stroke-width="0.85" stroke-dasharray="2 1.2"/>
<use href="#mplus" x="437.9" y="253.8"/>
<text transform="translate(447 256.1) scale(1 1.0)" class="lg">Steady State</text>
<text x="375.5" y="359.7" class="pl" text-anchor="middle">(<tspan font-weight="bold">d</tspan>)</text>
<path d="M26 371.81H237.5V510.63" fill="none" stroke="#9a9a9a" stroke-width="1"/>
<path d="M26 510.63H237.5" fill="none" stroke="#9a9a9a" stroke-width="1"/>
<path d="M26 371.81V510.63" stroke="#1a1a1a" stroke-width="1.2"/>
<path d="M23.8 510.63H26" stroke="#1a1a1a" stroke-width="0.95"/>
<text transform="translate(20.8 512.83) scale(0.8 1.05)" class="tk" text-anchor="end">-4</text>
<path d="M23.8 502.47H26" stroke="#1a1a1a" stroke-width="0.95"/>
<text transform="translate(20.8 504.67) scale(0.8 1.05)" class="tk" text-anchor="end">-2</text>
<path d="M23.8 494.3H26" stroke="#1a1a1a" stroke-width="0.95"/>
<text transform="translate(20.8 496.5) scale(0.8 1.05)" class="tk" text-anchor="end">0</text>
<path d="M23.8 486.13H26" stroke="#1a1a1a" stroke-width="0.95"/>
<text transform="translate(20.8 488.33) scale(0.8 1.05)" class="tk" text-anchor="end">2</text>
<path d="M23.8 477.97H26" stroke="#1a1a1a" stroke-width="0.95"/>
<text transform="translate(20.8 480.17) scale(0.8 1.05)" class="tk" text-anchor="end">4</text>
<path d="M23.8 469.8H26" stroke="#1a1a1a" stroke-width="0.95"/>
<text transform="translate(20.8 472) scale(0.8 1.05)" class="tk" text-anchor="end">6</text>
<path d="M23.8 461.64H26" stroke="#1a1a1a" stroke-width="0.95"/>
<text transform="translate(20.8 463.84) scale(0.8 1.05)" class="tk" text-anchor="end">8</text>
<path d="M23.8 453.47H26" stroke="#1a1a1a" stroke-width="0.95"/>
<text transform="translate(20.8 455.67) scale(0.8 1.05)" class="tk" text-anchor="end">10</text>
<path d="M23.8 445.3H26" stroke="#1a1a1a" stroke-width="0.95"/>
<text transform="translate(20.8 447.5) scale(0.8 1.05)" class="tk" text-anchor="end">12</text>
<path d="M23.8 437.14H26" stroke="#1a1a1a" stroke-width="0.95"/>
<text transform="translate(20.8 439.34) scale(0.8 1.05)" class="tk" text-anchor="end">14</text>
<path d="M23.8 428.97H26" stroke="#1a1a1a" stroke-width="0.95"/>
<text transform="translate(20.8 431.17) scale(0.8 1.05)" class="tk" text-anchor="end">16</text>
<path d="M23.8 420.81H26" stroke="#1a1a1a" stroke-width="0.95"/>
<text transform="translate(20.8 423.01) scale(0.8 1.05)" class="tk" text-anchor="end">18</text>
<path d="M23.8 412.64H26" stroke="#1a1a1a" stroke-width="0.95"/>
<text transform="translate(20.8 414.84) scale(0.8 1.05)" class="tk" text-anchor="end">20</text>
<path d="M23.8 404.47H26" stroke="#1a1a1a" stroke-width="0.95"/>
<text transform="translate(20.8 406.67) scale(0.8 1.05)" class="tk" text-anchor="end">22</text>
<path d="M23.8 396.31H26" stroke="#1a1a1a" stroke-width="0.95"/>
<text transform="translate(20.8 398.51) scale(0.8 1.05)" class="tk" text-anchor="end">24</text>
<path d="M23.8 388.14H26" stroke="#1a1a1a" stroke-width="0.95"/>
<text transform="translate(20.8 390.34) scale(0.8 1.05)" class="tk" text-anchor="end">26</text>
<path d="M23.8 379.98H26" stroke="#1a1a1a" stroke-width="0.95"/>
<text transform="translate(20.8 382.18) scale(0.8 1.05)" class="tk" text-anchor="end">28</text>
<path d="M23.8 371.81H26" stroke="#1a1a1a" stroke-width="0.95"/>
<text transform="translate(20.8 374.01) scale(0.8 1.05)" class="tk" text-anchor="end">30</text>
<path d="M26 494.3H237.5" stroke="#1a1a1a" stroke-width="1.2"/>
<path d="M26 494.3V496.3" stroke="#1a1a1a" stroke-width="0.95"/>
<text transform="translate(26 503.7) scale(1.0 1.0)" class="tk" text-anchor="middle">0</text>
<path d="M33.05 494.3V496.3" stroke="#1a1a1a" stroke-width="0.95"/>
<text transform="translate(33.05 503.7) scale(1.0 1.0)" class="tk" text-anchor="middle">2</text>
<path d="M40.1 494.3V496.3" stroke="#1a1a1a" stroke-width="0.95"/>
<text transform="translate(40.1 503.7) scale(1.0 1.0)" class="tk" text-anchor="middle">4</text>
<path d="M47.15 494.3V496.3" stroke="#1a1a1a" stroke-width="0.95"/>
<text transform="translate(47.15 503.7) scale(1.0 1.0)" class="tk" text-anchor="middle">6</text>
<path d="M54.2 494.3V496.3" stroke="#1a1a1a" stroke-width="0.95"/>
<text transform="translate(54.2 503.7) scale(1.0 1.0)" class="tk" text-anchor="middle">8</text>
<path d="M61.25 494.3V496.3" stroke="#1a1a1a" stroke-width="0.95"/>
<text transform="translate(61.25 503.7) scale(1.0 1.0)" class="tk" text-anchor="middle">10</text>
<path d="M68.3 494.3V496.3" stroke="#1a1a1a" stroke-width="0.95"/>
<text transform="translate(68.3 503.7) scale(1.0 1.0)" class="tk" text-anchor="middle">12</text>
<path d="M75.35 494.3V496.3" stroke="#1a1a1a" stroke-width="0.95"/>
<text transform="translate(75.35 503.7) scale(1.0 1.0)" class="tk" text-anchor="middle">14</text>
<path d="M82.4 494.3V496.3" stroke="#1a1a1a" stroke-width="0.95"/>
<text transform="translate(82.4 503.7) scale(1.0 1.0)" class="tk" text-anchor="middle">16</text>
<path d="M89.45 494.3V496.3" stroke="#1a1a1a" stroke-width="0.95"/>
<text transform="translate(89.45 503.7) scale(1.0 1.0)" class="tk" text-anchor="middle">18</text>
<path d="M96.5 494.3V496.3" stroke="#1a1a1a" stroke-width="0.95"/>
<text transform="translate(96.5 503.7) scale(1.0 1.0)" class="tk" text-anchor="middle">20</text>
<path d="M103.55 494.3V496.3" stroke="#1a1a1a" stroke-width="0.95"/>
<text transform="translate(103.55 503.7) scale(1.0 1.0)" class="tk" text-anchor="middle">22</text>
<path d="M110.6 494.3V496.3" stroke="#1a1a1a" stroke-width="0.95"/>
<text transform="translate(110.6 503.7) scale(1.0 1.0)" class="tk" text-anchor="middle">24</text>
<path d="M117.65 494.3V496.3" stroke="#1a1a1a" stroke-width="0.95"/>
<text transform="translate(117.65 503.7) scale(1.0 1.0)" class="tk" text-anchor="middle">26</text>
<path d="M124.7 494.3V496.3" stroke="#1a1a1a" stroke-width="0.95"/>
<text transform="translate(124.7 503.7) scale(1.0 1.0)" class="tk" text-anchor="middle">28</text>
<path d="M131.75 494.3V496.3" stroke="#1a1a1a" stroke-width="0.95"/>
<text transform="translate(131.75 503.7) scale(1.0 1.0)" class="tk" text-anchor="middle">30</text>
<path d="M138.8 494.3V496.3" stroke="#1a1a1a" stroke-width="0.95"/>
<text transform="translate(138.8 503.7) scale(1.0 1.0)" class="tk" text-anchor="middle">32</text>
<path d="M145.85 494.3V496.3" stroke="#1a1a1a" stroke-width="0.95"/>
<text transform="translate(145.85 503.7) scale(1.0 1.0)" class="tk" text-anchor="middle">34</text>
<path d="M152.9 494.3V496.3" stroke="#1a1a1a" stroke-width="0.95"/>
<text transform="translate(152.9 503.7) scale(1.0 1.0)" class="tk" text-anchor="middle">36</text>
<path d="M159.95 494.3V496.3" stroke="#1a1a1a" stroke-width="0.95"/>
<text transform="translate(159.95 503.7) scale(1.0 1.0)" class="tk" text-anchor="middle">38</text>
<path d="M167 494.3V496.3" stroke="#1a1a1a" stroke-width="0.95"/>
<text transform="translate(167 503.7) scale(1.0 1.0)" class="tk" text-anchor="middle">40</text>
<path d="M174.05 494.3V496.3" stroke="#1a1a1a" stroke-width="0.95"/>
<text transform="translate(174.05 503.7) scale(1.0 1.0)" class="tk" text-anchor="middle">42</text>
<path d="M181.1 494.3V496.3" stroke="#1a1a1a" stroke-width="0.95"/>
<text transform="translate(181.1 503.7) scale(1.0 1.0)" class="tk" text-anchor="middle">44</text>
<path d="M188.15 494.3V496.3" stroke="#1a1a1a" stroke-width="0.95"/>
<text transform="translate(188.15 503.7) scale(1.0 1.0)" class="tk" text-anchor="middle">46</text>
<path d="M195.2 494.3V496.3" stroke="#1a1a1a" stroke-width="0.95"/>
<text transform="translate(195.2 503.7) scale(1.0 1.0)" class="tk" text-anchor="middle">48</text>
<path d="M202.25 494.3V496.3" stroke="#1a1a1a" stroke-width="0.95"/>
<text transform="translate(202.25 503.7) scale(1.0 1.0)" class="tk" text-anchor="middle">50</text>
<path d="M209.3 494.3V496.3" stroke="#1a1a1a" stroke-width="0.95"/>
<text transform="translate(209.3 503.7) scale(1.0 1.0)" class="tk" text-anchor="middle">52</text>
<path d="M216.35 494.3V496.3" stroke="#1a1a1a" stroke-width="0.95"/>
<text transform="translate(216.35 503.7) scale(1.0 1.0)" class="tk" text-anchor="middle">54</text>
<path d="M223.4 494.3V496.3" stroke="#1a1a1a" stroke-width="0.95"/>
<text transform="translate(223.4 503.7) scale(1.0 1.0)" class="tk" text-anchor="middle">56</text>
<path d="M230.45 494.3V496.3" stroke="#1a1a1a" stroke-width="0.95"/>
<text transform="translate(230.45 503.7) scale(1.0 1.0)" class="tk" text-anchor="middle">58</text>
<path d="M237.5 494.3V496.3" stroke="#1a1a1a" stroke-width="0.95"/>
<text transform="translate(237.5 503.7) scale(1.0 1.0)" class="tk" text-anchor="middle">60</text>
<text x="131.5" y="517.7" class="ttl" text-anchor="middle">X <tspan style="font-size:5.5px">(cm)</tspan></text>
<text transform="translate(12.2 441) rotate(-90)" class="ttl" text-anchor="middle" style="font-size:6.4px">Y <tspan style="font-size:6px">(cm)</tspan></text>
<path d="M26 494.3L237.5 500.51" stroke="#000" stroke-width="0.9"/>
<path d="M26 437.95 29.52 445.71 33.05 451.43 36.58 457.14 40.1 461.23 43.62 465.92 47.15 469.92 50.67 472.82 54.2 476.33 57.72 480.34 61.25 483.36 64.78 486.38 68.3 488.87 71.82 491.69 75.35 493.89 78.88 495.69" fill="none" stroke="#000" stroke-width="0.95" stroke-dasharray="1.4 1.1"/>
<path d="M26 442.45 29.52 449.8 33.05 455.51 36.58 460.82 40.1 465.31 43.62 469.8 47.15 473.88 50.67 477.56 54.2 481.23 57.72 484.5 61.25 487.77 64.78 490.63 68.3 492.87 71.82 494.91" fill="none" stroke="#000" stroke-width="0.95" stroke-dasharray="1.4 1.1"/>
<path d="M26 446.94 29.52 453.88 33.05 460 36.58 465.31 40.1 469.8 43.62 474.29 47.15 478.38 50.67 482.05 54.2 485.73 57.72 488.99 61.25 491.85 64.78 493.89 66.54 494.91" fill="none" stroke="#000" stroke-width="0.95" stroke-dasharray="1.4 1.1"/>
<path d="M26 451.43 29.52 457.96 33.05 464.09 36.58 468.99 40.1 473.88 43.62 477.97 47.15 482.05 50.67 485.73 54.2 488.99 57.72 491.85 61.25 494.1" fill="none" stroke="#000" stroke-width="0.95" stroke-dasharray="1.4 1.1"/>
<path d="M26 453.47 29.52 460.82 33.05 466.94 36.58 471.84 40.1 476.33 43.62 480.42 47.15 484.5 50.67 488.18 54.2 491.03 57.72 493.69" fill="none" stroke="#000" stroke-width="0.95" stroke-dasharray="1.4 1.1"/>
<path d="M26 400.39 30.23 405.81 34.46 412.05 38.69 416.59 42.92 420.28 47.15 424.41 51.38 427.14 55.61 429.85 59.84 433.04 64.07 436.34 68.3 439.49 72.53 441.8 76.76 444.22 80.99 447.16 85.22 449.63 89.45 452.01 93.68 454.69 97.91 457.54 102.14 459.83 106.37 461.79 110.6 463.6 114.83 465.28 119.06 466.97 123.29 468.73 127.52 470.51 131.75 472.28 135.98 474.13 140.21 476.27 144.44 478.38 148.67 480.04 152.9 481.62 157.13 483.52 161.36 485.59 165.59 487.43 169.82 489.07 174.05 490.46 178.28 491.64 182.51 492.94 186.74 494.39 190.97 495.57 195.2 496.4 199.43 497.28 203.66 498.21 207.89 499.18 211.41 500.02" fill="none" stroke="#000" stroke-width="0.95" stroke-dasharray="1.4 1.1"/>
<use href="#msq" x="26" y="437.95"/>
<use href="#msq" x="29.52" y="445.71"/>
<use href="#msq" x="33.05" y="451.43"/>
<use href="#msq" x="36.58" y="457.14"/>
<use href="#msq" x="40.1" y="461.23"/>
<use href="#msq" x="43.62" y="465.92"/>
<use href="#msq" x="47.15" y="469.92"/>
<use href="#msq" x="50.67" y="472.82"/>
<use href="#msq" x="54.2" y="476.33"/>
<use href="#msq" x="57.72" y="480.34"/>
<use href="#msq" x="61.25" y="483.36"/>
<use href="#msq" x="64.78" y="486.38"/>
<use href="#msq" x="68.3" y="488.87"/>
<use href="#msq" x="71.82" y="491.69"/>
<use href="#msq" x="75.35" y="493.89"/>
<use href="#msq" x="78.88" y="495.69"/>
<use href="#mdia" x="26" y="442.45"/>
<use href="#mdia" x="29.52" y="449.8"/>
<use href="#mdia" x="33.05" y="455.51"/>
<use href="#mdia" x="36.58" y="460.82"/>
<use href="#mdia" x="40.1" y="465.31"/>
<use href="#mdia" x="43.62" y="469.8"/>
<use href="#mdia" x="47.15" y="473.88"/>
<use href="#mdia" x="50.67" y="477.56"/>
<use href="#mdia" x="54.2" y="481.23"/>
<use href="#mdia" x="57.72" y="484.5"/>
<use href="#mdia" x="61.25" y="487.77"/>
<use href="#mdia" x="64.78" y="490.63"/>
<use href="#mdia" x="68.3" y="492.87"/>
<use href="#mdia" x="71.82" y="494.91"/>
<use href="#mtri" x="26" y="446.94"/>
<use href="#mtri" x="29.52" y="453.88"/>
<use href="#mtri" x="33.05" y="460"/>
<use href="#mtri" x="36.58" y="465.31"/>
<use href="#mtri" x="40.1" y="469.8"/>
<use href="#mtri" x="43.62" y="474.29"/>
<use href="#mtri" x="47.15" y="478.38"/>
<use href="#mtri" x="50.67" y="482.05"/>
<use href="#mtri" x="54.2" y="485.73"/>
<use href="#mtri" x="57.72" y="488.99"/>
<use href="#mtri" x="61.25" y="491.85"/>
<use href="#mtri" x="64.78" y="493.89"/>
<use href="#mtri" x="66.54" y="494.91"/>
<use href="#mcir" x="26" y="451.43"/>
<use href="#mcir" x="29.52" y="457.96"/>
<use href="#mcir" x="33.05" y="464.09"/>
<use href="#mcir" x="36.58" y="468.99"/>
<use href="#mcir" x="40.1" y="473.88"/>
<use href="#mcir" x="43.62" y="477.97"/>
<use href="#mcir" x="47.15" y="482.05"/>
<use href="#mcir" x="50.67" y="485.73"/>
<use href="#mcir" x="54.2" y="488.99"/>
<use href="#mcir" x="57.72" y="491.85"/>
<use href="#mcir" x="61.25" y="494.1"/>
<use href="#mosq" x="26" y="453.47"/>
<use href="#mosq" x="29.52" y="460.82"/>
<use href="#mosq" x="33.05" y="466.94"/>
<use href="#mosq" x="36.58" y="471.84"/>
<use href="#mosq" x="40.1" y="476.33"/>
<use href="#mosq" x="43.62" y="480.42"/>
<use href="#mosq" x="47.15" y="484.5"/>
<use href="#mosq" x="50.67" y="488.18"/>
<use href="#mosq" x="54.2" y="491.03"/>
<use href="#mosq" x="57.72" y="493.69"/>
<use href="#mplus" x="26" y="400.39"/>
<use href="#mplus" x="30.23" y="405.81"/>
<use href="#mplus" x="34.46" y="412.05"/>
<use href="#mplus" x="38.69" y="416.59"/>
<use href="#mplus" x="42.92" y="420.28"/>
<use href="#mplus" x="47.15" y="424.41"/>
<use href="#mplus" x="51.38" y="427.14"/>
<use href="#mplus" x="55.61" y="429.85"/>
<use href="#mplus" x="59.84" y="433.04"/>
<use href="#mplus" x="64.07" y="436.34"/>
<use href="#mplus" x="68.3" y="439.49"/>
<use href="#mplus" x="72.53" y="441.8"/>
<use href="#mplus" x="76.76" y="444.22"/>
<use href="#mplus" x="80.99" y="447.16"/>
<use href="#mplus" x="85.22" y="449.63"/>
<use href="#mplus" x="89.45" y="452.01"/>
<use href="#mplus" x="93.68" y="454.69"/>
<use href="#mplus" x="97.91" y="457.54"/>
<use href="#mplus" x="102.14" y="459.83"/>
<use href="#mplus" x="106.37" y="461.79"/>
<use href="#mplus" x="110.6" y="463.6"/>
<use href="#mplus" x="114.83" y="465.28"/>
<use href="#mplus" x="119.06" y="466.97"/>
<use href="#mplus" x="123.29" y="468.73"/>
<use href="#mplus" x="127.52" y="470.51"/>
<use href="#mplus" x="131.75" y="472.28"/>
<use href="#mplus" x="135.98" y="474.13"/>
<use href="#mplus" x="140.21" y="476.27"/>
<use href="#mplus" x="144.44" y="478.38"/>
<use href="#mplus" x="148.67" y="480.04"/>
<use href="#mplus" x="152.9" y="481.62"/>
<use href="#mplus" x="157.13" y="483.52"/>
<use href="#mplus" x="161.36" y="485.59"/>
<use href="#mplus" x="165.59" y="487.43"/>
<use href="#mplus" x="169.82" y="489.07"/>
<use href="#mplus" x="174.05" y="490.46"/>
<use href="#mplus" x="178.28" y="491.64"/>
<use href="#mplus" x="182.51" y="492.94"/>
<use href="#mplus" x="186.74" y="494.39"/>
<use href="#mplus" x="190.97" y="495.57"/>
<use href="#mplus" x="195.2" y="496.4"/>
<use href="#mplus" x="199.43" y="497.28"/>
<use href="#mplus" x="203.66" y="498.21"/>
<use href="#mplus" x="207.89" y="499.18"/>
<use href="#mplus" x="211.41" y="500.02"/>
<rect x="173.2" y="375.5" width="54" height="77" fill="#fff" stroke="#8c8c8c" stroke-width="0.7"/>
<path d="M176.2 381.1H191.4" stroke="#000" stroke-width="0.85" stroke-dasharray="2 1.2"/>
<use href="#msq" x="183.8" y="381.1"/>
<text transform="translate(192.8 383.4) scale(1 1.0)" class="lg">Q<tspan font-size="3.4" dy="0.9">i</tspan><tspan dy="-0.9">/Q=0.2</tspan></text>
<path d="M176.2 392.2H191.4" stroke="#000" stroke-width="0.85" stroke-dasharray="2 1.2"/>
<use href="#mdia" x="183.8" y="392.2"/>
<text transform="translate(192.8 394.5) scale(1 1.0)" class="lg">Q<tspan font-size="3.4" dy="0.9">i</tspan><tspan dy="-0.9">/Q=0.4</tspan></text>
<path d="M176.2 403.2H191.4" stroke="#000" stroke-width="0.85" stroke-dasharray="2 1.2"/>
<use href="#mtri" x="183.8" y="403.2"/>
<text transform="translate(192.8 405.5) scale(1 1.0)" class="lg">Q<tspan font-size="3.4" dy="0.9">i</tspan><tspan dy="-0.9">/Q=0.6</tspan></text>
<path d="M176.2 413.9H191.4" stroke="#000" stroke-width="0.85" stroke-dasharray="2 1.2"/>
<use href="#mcir" x="183.8" y="413.9"/>
<text transform="translate(192.8 416.2) scale(1 1.0)" class="lg">Q<tspan font-size="3.4" dy="0.9">i</tspan><tspan dy="-0.9">/Q=0.8</tspan></text>
<path d="M176.2 424.7H191.4" stroke="#000" stroke-width="0.85" stroke-dasharray="2 1.2"/>
<use href="#mosq" x="183.8" y="424.7"/>
<text transform="translate(192.8 427) scale(1 1.0)" class="lg">Q<tspan font-size="3.4" dy="0.9">i</tspan><tspan dy="-0.9">/Q=1.0</tspan></text>
<path d="M176.2 435.5H191.4" stroke="#000" stroke-width="0.9"/>
<text transform="translate(192.8 437.8) scale(1 1.0)" class="lg">bed</text>
<path d="M176.2 446.6H191.4" stroke="#000" stroke-width="0.85" stroke-dasharray="2 1.2"/>
<use href="#mplus" x="183.8" y="446.6"/>
<text transform="translate(192.8 448.9) scale(1 1.0)" class="lg">Steady State</text>
<text x="120.7" y="541.7" class="pl" text-anchor="middle">(<tspan font-weight="bold">e</tspan>)</text>
<path d="M279.8 371.91H494.6V510.73" fill="none" stroke="#9a9a9a" stroke-width="1"/>
<path d="M279.8 510.73H494.6" fill="none" stroke="#9a9a9a" stroke-width="1"/>
<path d="M279.8 371.91V510.73" stroke="#1a1a1a" stroke-width="1.2"/>
<path d="M277.6 510.73H279.8" stroke="#1a1a1a" stroke-width="0.95"/>
<text transform="translate(274.8 512.93) scale(0.8 1.05)" class="tk" text-anchor="end">-4</text>
<path d="M277.6 502.57H279.8" stroke="#1a1a1a" stroke-width="0.95"/>
<text transform="translate(274.8 504.77) scale(0.8 1.05)" class="tk" text-anchor="end">-2</text>
<path d="M277.6 494.4H279.8" stroke="#1a1a1a" stroke-width="0.95"/>
<text transform="translate(274.8 496.6) scale(0.8 1.05)" class="tk" text-anchor="end">0</text>
<path d="M277.6 486.23H279.8" stroke="#1a1a1a" stroke-width="0.95"/>
<text transform="translate(274.8 488.43) scale(0.8 1.05)" class="tk" text-anchor="end">2</text>
<path d="M277.6 478.07H279.8" stroke="#1a1a1a" stroke-width="0.95"/>
<text transform="translate(274.8 480.27) scale(0.8 1.05)" class="tk" text-anchor="end">4</text>
<path d="M277.6 469.9H279.8" stroke="#1a1a1a" stroke-width="0.95"/>
<text transform="translate(274.8 472.1) scale(0.8 1.05)" class="tk" text-anchor="end">6</text>
<path d="M277.6 461.74H279.8" stroke="#1a1a1a" stroke-width="0.95"/>
<text transform="translate(274.8 463.94) scale(0.8 1.05)" class="tk" text-anchor="end">8</text>
<path d="M277.6 453.57H279.8" stroke="#1a1a1a" stroke-width="0.95"/>
<text transform="translate(274.8 455.77) scale(0.8 1.05)" class="tk" text-anchor="end">10</text>
<path d="M277.6 445.4H279.8" stroke="#1a1a1a" stroke-width="0.95"/>
<text transform="translate(274.8 447.6) scale(0.8 1.05)" class="tk" text-anchor="end">12</text>
<path d="M277.6 437.24H279.8" stroke="#1a1a1a" stroke-width="0.95"/>
<text transform="translate(274.8 439.44) scale(0.8 1.05)" class="tk" text-anchor="end">14</text>
<path d="M277.6 429.07H279.8" stroke="#1a1a1a" stroke-width="0.95"/>
<text transform="translate(274.8 431.27) scale(0.8 1.05)" class="tk" text-anchor="end">16</text>
<path d="M277.6 420.91H279.8" stroke="#1a1a1a" stroke-width="0.95"/>
<text transform="translate(274.8 423.11) scale(0.8 1.05)" class="tk" text-anchor="end">18</text>
<path d="M277.6 412.74H279.8" stroke="#1a1a1a" stroke-width="0.95"/>
<text transform="translate(274.8 414.94) scale(0.8 1.05)" class="tk" text-anchor="end">20</text>
<path d="M277.6 404.57H279.8" stroke="#1a1a1a" stroke-width="0.95"/>
<text transform="translate(274.8 406.77) scale(0.8 1.05)" class="tk" text-anchor="end">22</text>
<path d="M277.6 396.41H279.8" stroke="#1a1a1a" stroke-width="0.95"/>
<text transform="translate(274.8 398.61) scale(0.8 1.05)" class="tk" text-anchor="end">24</text>
<path d="M277.6 388.24H279.8" stroke="#1a1a1a" stroke-width="0.95"/>
<text transform="translate(274.8 390.44) scale(0.8 1.05)" class="tk" text-anchor="end">26</text>
<path d="M277.6 380.08H279.8" stroke="#1a1a1a" stroke-width="0.95"/>
<text transform="translate(274.8 382.28) scale(0.8 1.05)" class="tk" text-anchor="end">28</text>
<path d="M277.6 371.91H279.8" stroke="#1a1a1a" stroke-width="0.95"/>
<text transform="translate(274.8 374.11) scale(0.8 1.05)" class="tk" text-anchor="end">30</text>
<path d="M279.8 494.4H494.6" stroke="#1a1a1a" stroke-width="1.2"/>
<path d="M279.8 494.4V496.4" stroke="#1a1a1a" stroke-width="0.95"/>
<text transform="translate(279.8 503.7) scale(1.0 1.0)" class="tk" text-anchor="middle">0</text>
<path d="M293.23 494.4V496.4" stroke="#1a1a1a" stroke-width="0.95"/>
<text transform="translate(293.23 503.7) scale(1.0 1.0)" class="tk" text-anchor="middle">2</text>
<path d="M306.65 494.4V496.4" stroke="#1a1a1a" stroke-width="0.95"/>
<text transform="translate(306.65 503.7) scale(1.0 1.0)" class="tk" text-anchor="middle">4</text>
<path d="M320.08 494.4V496.4" stroke="#1a1a1a" stroke-width="0.95"/>
<text transform="translate(320.08 503.7) scale(1.0 1.0)" class="tk" text-anchor="middle">6</text>
<path d="M333.5 494.4V496.4" stroke="#1a1a1a" stroke-width="0.95"/>
<text transform="translate(333.5 503.7) scale(1.0 1.0)" class="tk" text-anchor="middle">8</text>
<path d="M346.93 494.4V496.4" stroke="#1a1a1a" stroke-width="0.95"/>
<text transform="translate(346.93 503.7) scale(1.0 1.0)" class="tk" text-anchor="middle">10</text>
<path d="M360.35 494.4V496.4" stroke="#1a1a1a" stroke-width="0.95"/>
<text transform="translate(360.35 503.7) scale(1.0 1.0)" class="tk" text-anchor="middle">12</text>
<path d="M373.78 494.4V496.4" stroke="#1a1a1a" stroke-width="0.95"/>
<text transform="translate(373.78 503.7) scale(1.0 1.0)" class="tk" text-anchor="middle">14</text>
<path d="M387.2 494.4V496.4" stroke="#1a1a1a" stroke-width="0.95"/>
<text transform="translate(387.2 503.7) scale(1.0 1.0)" class="tk" text-anchor="middle">16</text>
<path d="M400.62 494.4V496.4" stroke="#1a1a1a" stroke-width="0.95"/>
<text transform="translate(400.62 503.7) scale(1.0 1.0)" class="tk" text-anchor="middle">18</text>
<path d="M414.05 494.4V496.4" stroke="#1a1a1a" stroke-width="0.95"/>
<text transform="translate(414.05 503.7) scale(1.0 1.0)" class="tk" text-anchor="middle">20</text>
<path d="M427.48 494.4V496.4" stroke="#1a1a1a" stroke-width="0.95"/>
<text transform="translate(427.48 503.7) scale(1.0 1.0)" class="tk" text-anchor="middle">22</text>
<path d="M440.9 494.4V496.4" stroke="#1a1a1a" stroke-width="0.95"/>
<text transform="translate(440.9 503.7) scale(1.0 1.0)" class="tk" text-anchor="middle">24</text>
<path d="M454.33 494.4V496.4" stroke="#1a1a1a" stroke-width="0.95"/>
<text transform="translate(454.33 503.7) scale(1.0 1.0)" class="tk" text-anchor="middle">26</text>
<path d="M467.75 494.4V496.4" stroke="#1a1a1a" stroke-width="0.95"/>
<text transform="translate(467.75 503.7) scale(1.0 1.0)" class="tk" text-anchor="middle">28</text>
<path d="M481.18 494.4V496.4" stroke="#1a1a1a" stroke-width="0.95"/>
<text transform="translate(481.18 503.7) scale(1.0 1.0)" class="tk" text-anchor="middle">30</text>
<path d="M494.6 494.4V496.4" stroke="#1a1a1a" stroke-width="0.95"/>
<text transform="translate(494.6 503.7) scale(1.0 1.0)" class="tk" text-anchor="middle">32</text>
<text x="387.4" y="517.6" class="ttl" text-anchor="middle">X <tspan style="font-size:5.5px">(cm)</tspan></text>
<text transform="translate(265.9 441) rotate(-90)" class="ttl" text-anchor="middle" style="font-size:6.4px">Y <tspan style="font-size:6px">(cm)</tspan></text>
<path d="M279.8 494.4L494.6 498.07" stroke="#000" stroke-width="0.9"/>
<path d="M279.8 438.46 286.51 445.4 293.23 451.94 299.94 457.41 306.65 461.45 313.36 466.06 320.08 470.6 326.79 473.98 333.5 476.97 340.21 480.93 346.93 483.62 353.64 487.66 360.35 489.66 367.06 492.07 373.78 493.91 380.49 495.71" fill="none" stroke="#000" stroke-width="0.95" stroke-dasharray="1.4 1.1"/>
<path d="M279.8 442.95 286.51 450.3 293.23 456.18 299.94 461.45 306.65 465.82 313.36 470.6 320.08 474.8 326.79 477.74 333.5 481.74 340.21 485.21 346.93 488.44 353.64 492.07 360.35 494.4" fill="none" stroke="#000" stroke-width="0.95" stroke-dasharray="1.4 1.1"/>
<path d="M279.8 447.45 286.51 454.59 293.23 460.63 299.94 465.82 306.65 470.19 313.36 474.43 320.08 479.09 326.79 482.36 333.5 486.03 340.21 489.66 346.93 492.69 351.62 494.4" fill="none" stroke="#000" stroke-width="0.95" stroke-dasharray="1.4 1.1"/>
<path d="M279.8 452.35 286.51 458.47 293.23 464.88 299.94 469.62 306.65 473.82 313.36 478.68 320.08 482.97 326.79 485.83 333.5 489.66 340.21 492.69 343.57 494.4" fill="none" stroke="#000" stroke-width="0.95" stroke-dasharray="1.4 1.1"/>
<path d="M279.8 454.59 286.51 461.82 293.23 468.19 299.94 472.35 306.65 476.84 313.36 481.74 320.08 485.54 326.79 489.09 333.5 492.4 338.2 494.4" fill="none" stroke="#000" stroke-width="0.95" stroke-dasharray="1.4 1.1"/>
<path d="M279.8 424.99 287.86 434.79 296.38 442.14 304.7 447.45 313.36 452.35 322.09 456.84 330.14 460.51 339.54 464.76 348.27 469.29 358.34 473.21 368.41 477.37 377.8 480.93 386.53 483.78 394.58 487.46 401.3 489.54 409.35 491.79 416.06 494.2 424.79 495.91 430.83 497.34" fill="none" stroke="#000" stroke-width="0.95" stroke-dasharray="1.4 1.1"/>
<use href="#msq" x="279.8" y="438.46"/>
<use href="#msq" x="286.51" y="445.4"/>
<use href="#msq" x="293.23" y="451.94"/>
<use href="#msq" x="299.94" y="457.41"/>
<use href="#msq" x="306.65" y="461.45"/>
<use href="#msq" x="313.36" y="466.06"/>
<use href="#msq" x="320.08" y="470.6"/>
<use href="#msq" x="326.79" y="473.98"/>
<use href="#msq" x="333.5" y="476.97"/>
<use href="#msq" x="340.21" y="480.93"/>
<use href="#msq" x="346.93" y="483.62"/>
<use href="#msq" x="353.64" y="487.66"/>
<use href="#msq" x="360.35" y="489.66"/>
<use href="#msq" x="367.06" y="492.07"/>
<use href="#msq" x="373.78" y="493.91"/>
<use href="#msq" x="380.49" y="495.71"/>
<use href="#mdia" x="279.8" y="442.95"/>
<use href="#mdia" x="286.51" y="450.3"/>
<use href="#mdia" x="293.23" y="456.18"/>
<use href="#mdia" x="299.94" y="461.45"/>
<use href="#mdia" x="306.65" y="465.82"/>
<use href="#mdia" x="313.36" y="470.6"/>
<use href="#mdia" x="320.08" y="474.8"/>
<use href="#mdia" x="326.79" y="477.74"/>
<use href="#mdia" x="333.5" y="481.74"/>
<use href="#mdia" x="340.21" y="485.21"/>
<use href="#mdia" x="346.93" y="488.44"/>
<use href="#mdia" x="353.64" y="492.07"/>
<use href="#mdia" x="360.35" y="494.4"/>
<use href="#mtri" x="279.8" y="447.45"/>
<use href="#mtri" x="286.51" y="454.59"/>
<use href="#mtri" x="293.23" y="460.63"/>
<use href="#mtri" x="299.94" y="465.82"/>
<use href="#mtri" x="306.65" y="470.19"/>
<use href="#mtri" x="313.36" y="474.43"/>
<use href="#mtri" x="320.08" y="479.09"/>
<use href="#mtri" x="326.79" y="482.36"/>
<use href="#mtri" x="333.5" y="486.03"/>
<use href="#mtri" x="340.21" y="489.66"/>
<use href="#mtri" x="346.93" y="492.69"/>
<use href="#mtri" x="351.62" y="494.4"/>
<use href="#mcir" x="279.8" y="452.35"/>
<use href="#mcir" x="286.51" y="458.47"/>
<use href="#mcir" x="293.23" y="464.88"/>
<use href="#mcir" x="299.94" y="469.62"/>
<use href="#mcir" x="306.65" y="473.82"/>
<use href="#mcir" x="313.36" y="478.68"/>
<use href="#mcir" x="320.08" y="482.97"/>
<use href="#mcir" x="326.79" y="485.83"/>
<use href="#mcir" x="333.5" y="489.66"/>
<use href="#mcir" x="340.21" y="492.69"/>
<use href="#mcir" x="343.57" y="494.4"/>
<use href="#mosq" x="279.8" y="454.59"/>
<use href="#mosq" x="286.51" y="461.82"/>
<use href="#mosq" x="293.23" y="468.19"/>
<use href="#mosq" x="299.94" y="472.35"/>
<use href="#mosq" x="306.65" y="476.84"/>
<use href="#mosq" x="313.36" y="481.74"/>
<use href="#mosq" x="320.08" y="485.54"/>
<use href="#mosq" x="326.79" y="489.09"/>
<use href="#mosq" x="333.5" y="492.4"/>
<use href="#mosq" x="338.2" y="494.4"/>
<use href="#mplus" x="279.8" y="424.99"/>
<use href="#mplus" x="287.86" y="434.79"/>
<use href="#mplus" x="296.38" y="442.14"/>
<use href="#mplus" x="304.7" y="447.45"/>
<use href="#mplus" x="313.36" y="452.35"/>
<use href="#mplus" x="322.09" y="456.84"/>
<use href="#mplus" x="330.14" y="460.51"/>
<use href="#mplus" x="339.54" y="464.76"/>
<use href="#mplus" x="348.27" y="469.29"/>
<use href="#mplus" x="358.34" y="473.21"/>
<use href="#mplus" x="368.41" y="477.37"/>
<use href="#mplus" x="377.8" y="480.93"/>
<use href="#mplus" x="386.53" y="483.78"/>
<use href="#mplus" x="394.58" y="487.46"/>
<use href="#mplus" x="401.3" y="489.54"/>
<use href="#mplus" x="409.35" y="491.79"/>
<use href="#mplus" x="416.06" y="494.2"/>
<use href="#mplus" x="424.79" y="495.91"/>
<use href="#mplus" x="430.83" y="497.34"/>
<rect x="430" y="375.5" width="54.6" height="76.7" fill="#fff" stroke="#8c8c8c" stroke-width="0.7"/>
<path d="M432.6 381.1H447.9" stroke="#000" stroke-width="0.85" stroke-dasharray="2 1.2"/>
<use href="#msq" x="440.25" y="381.1"/>
<text transform="translate(449.6 383.4) scale(1 1.0)" class="lg">Q<tspan font-size="3.4" dy="0.9">i</tspan><tspan dy="-0.9">/Q=0.2</tspan></text>
<path d="M432.6 392.2H447.9" stroke="#000" stroke-width="0.85" stroke-dasharray="2 1.2"/>
<use href="#mdia" x="440.25" y="392.2"/>
<text transform="translate(449.6 394.5) scale(1 1.0)" class="lg">Q<tspan font-size="3.4" dy="0.9">i</tspan><tspan dy="-0.9">/Q=0.4</tspan></text>
<path d="M432.6 403.2H447.9" stroke="#000" stroke-width="0.85" stroke-dasharray="2 1.2"/>
<use href="#mtri" x="440.25" y="403.2"/>
<text transform="translate(449.6 405.5) scale(1 1.0)" class="lg">Q<tspan font-size="3.4" dy="0.9">i</tspan><tspan dy="-0.9">/Q=0.6</tspan></text>
<path d="M432.6 413.9H447.9" stroke="#000" stroke-width="0.85" stroke-dasharray="2 1.2"/>
<use href="#mcir" x="440.25" y="413.9"/>
<text transform="translate(449.6 416.2) scale(1 1.0)" class="lg">Q<tspan font-size="3.4" dy="0.9">i</tspan><tspan dy="-0.9">/Q=0.8</tspan></text>
<path d="M432.6 424.7H447.9" stroke="#000" stroke-width="0.85" stroke-dasharray="2 1.2"/>
<use href="#mosq" x="440.25" y="424.7"/>
<text transform="translate(449.6 427) scale(1 1.0)" class="lg">Q<tspan font-size="3.4" dy="0.9">i</tspan><tspan dy="-0.9">/Q=1.0</tspan></text>
<path d="M432.6 435.5H447.9" stroke="#000" stroke-width="0.85" stroke-dasharray="2 1.2"/>
<use href="#mplus" x="440.25" y="435.5"/>
<text transform="translate(449.6 437.8) scale(1 1.0)" class="lg">Steady State</text>
<path d="M432.6 446.6H447.9" stroke="#000" stroke-width="0.9"/>
<text transform="translate(449.6 448.9) scale(1 1.0)" class="lg">bed</text>
<text x="375.6" y="540.1" class="pl" text-anchor="middle">(<tspan font-weight="normal">f</tspan>)</text>
</svg></body></html>
